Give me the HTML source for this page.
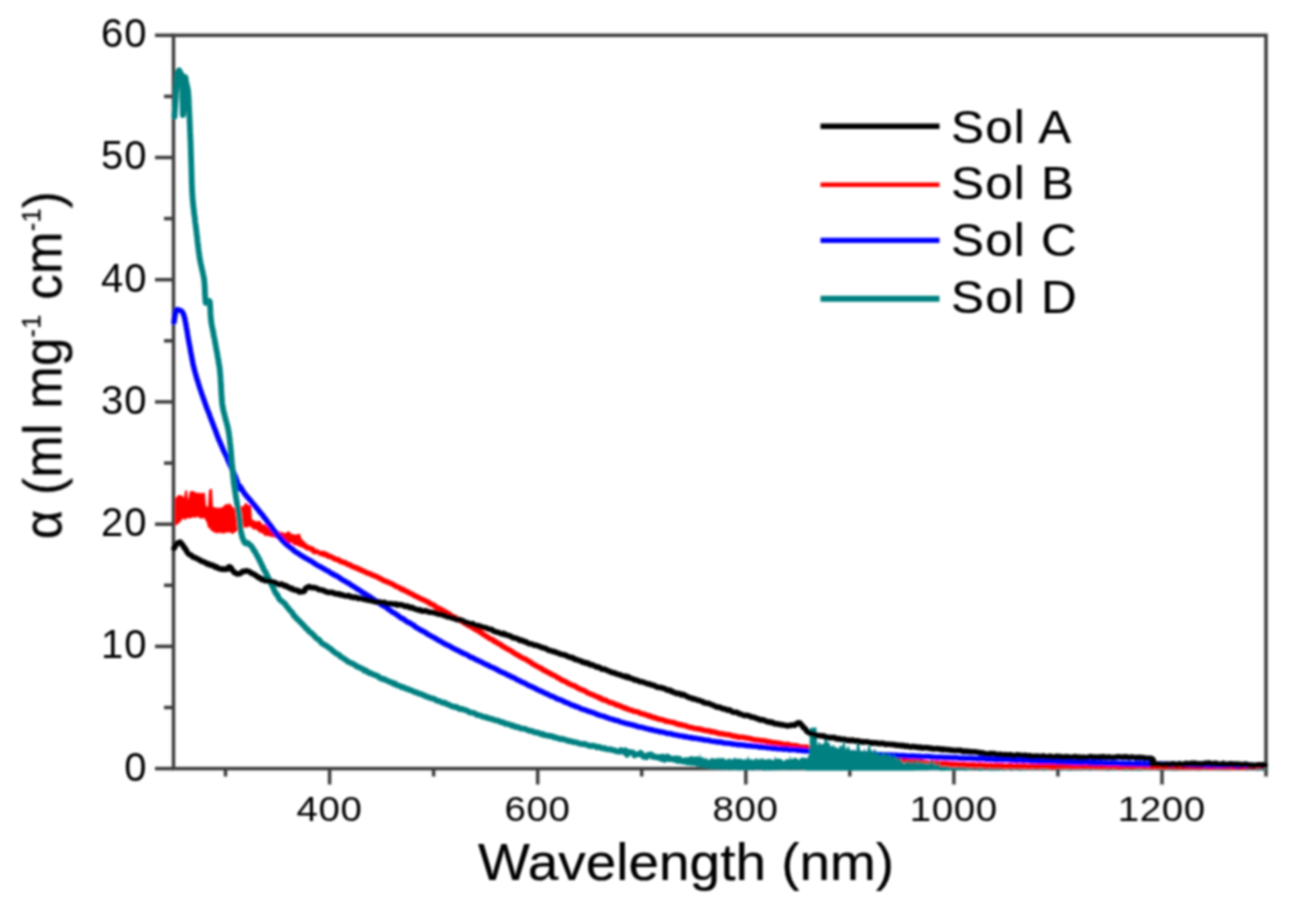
<!DOCTYPE html>
<html><head><meta charset="utf-8"><style>
html,body{margin:0;padding:0;background:#fff;}
svg{display:block;}
text{font-family:"Liberation Sans", sans-serif;}
</style></head><body>
<svg width="1292" height="916" viewBox="0 0 1292 916">
<defs><filter id="bl" x="-0.02" y="-0.02" width="1.04" height="1.04"><feGaussianBlur stdDeviation="0.85"/></filter></defs>
<rect width="1292" height="916" fill="#fff"/>
<g filter="url(#bl)">
<g stroke="#3d3d3d" stroke-width="3.5" fill="none" stroke-linecap="butt">
<rect x="173.5" y="35.3" width="1092.5" height="733.3"/>
<line x1="155" y1="768.6" x2="173.5" y2="768.6"/>
<line x1="155" y1="646.4" x2="173.5" y2="646.4"/>
<line x1="155" y1="524.2" x2="173.5" y2="524.2"/>
<line x1="155" y1="401.9" x2="173.5" y2="401.9"/>
<line x1="155" y1="279.7" x2="173.5" y2="279.7"/>
<line x1="155" y1="157.5" x2="173.5" y2="157.5"/>
<line x1="155" y1="35.3" x2="173.5" y2="35.3"/>
<line x1="164" y1="707.5" x2="173.5" y2="707.5"/>
<line x1="164" y1="585.3" x2="173.5" y2="585.3"/>
<line x1="164" y1="463.1" x2="173.5" y2="463.1"/>
<line x1="164" y1="340.8" x2="173.5" y2="340.8"/>
<line x1="164" y1="218.6" x2="173.5" y2="218.6"/>
<line x1="164" y1="96.4" x2="173.5" y2="96.4"/>
<line x1="329.6" y1="768.6" x2="329.6" y2="784.5"/>
<line x1="537.7" y1="768.6" x2="537.7" y2="784.5"/>
<line x1="745.8" y1="768.6" x2="745.8" y2="784.5"/>
<line x1="953.9" y1="768.6" x2="953.9" y2="784.5"/>
<line x1="1162.0" y1="768.6" x2="1162.0" y2="784.5"/>
<line x1="225.5" y1="768.6" x2="225.5" y2="776.5"/>
<line x1="433.6" y1="768.6" x2="433.6" y2="776.5"/>
<line x1="641.7" y1="768.6" x2="641.7" y2="776.5"/>
<line x1="849.8" y1="768.6" x2="849.8" y2="776.5"/>
<line x1="1057.9" y1="768.6" x2="1057.9" y2="776.5"/>
<line x1="1266.0" y1="768.6" x2="1266.0" y2="776.5"/>
</g>
<g fill="none" stroke-linejoin="round" stroke-linecap="round">
<path d="M940.0 767.6 L941.0 768.4 L942.0 767.3 L943.0 768.3 L944.0 767.9 L945.0 768.4 L946.0 766.7 L947.0 766.9 L948.0 767.1 L949.0 768.3 L950.0 766.5 L951.0 767.0 L952.0 767.9 L953.0 768.5 L954.0 766.9 L955.0 767.4 L956.0 767.9 L957.0 767.9 L958.0 768.0 L959.0 768.0 L960.0 767.0 L961.0 767.0 L962.0 766.6 L963.0 767.9 L964.0 766.9 L965.0 767.0 L966.0 768.4 L967.0 767.8 L968.0 767.7 L969.0 767.8 L970.0 767.7 L971.0 767.9 L972.0 767.1 L973.0 766.6 L974.0 766.6 L975.0 766.5 L976.0 767.2 L977.0 766.8 L978.0 766.7 L979.0 767.5 L980.0 768.4 L981.0 767.9 L982.0 767.0 L983.0 768.0 L984.0 766.9 L985.0 766.7 L986.0 767.1 L987.0 767.3 L988.0 767.9 L989.0 767.4 L990.0 768.0 L991.0 766.7 L992.0 768.4 L993.0 767.2 L994.0 768.2 L995.0 766.6 L996.0 768.2 L997.0 767.0 L998.0 768.2 L999.0 768.1 L1000.0 767.8 L1001.0 767.1 L1002.0 766.5 L1003.0 766.9 L1004.0 768.3 L1005.0 766.8 L1006.0 767.8 L1007.0 767.7 L1008.0 767.8 L1009.0 766.9 L1010.0 766.8 L1011.0 766.7 L1012.0 768.5 L1013.0 767.3 L1014.0 767.8 L1015.0 767.6 L1016.0 766.9 L1017.0 766.6 L1018.0 766.5 L1019.0 768.2 L1020.0 766.8 L1021.0 768.4 L1022.0 767.2 L1023.0 767.9 L1024.0 766.8 L1025.0 768.1 L1026.0 767.0 L1027.0 767.2 L1028.0 767.5 L1029.0 766.7 L1030.0 767.0 L1031.0 768.1 L1032.0 767.1 L1033.0 767.3 L1034.0 768.0 L1035.0 766.9 L1036.0 766.9 L1037.0 766.9 L1038.0 767.3 L1039.0 767.2 L1040.0 767.8 L1041.0 767.4 L1042.0 768.2 L1043.0 766.6 L1044.0 767.8 L1045.0 768.2 L1046.0 767.0 L1047.0 766.6 L1048.0 767.4 L1049.0 766.7 L1050.0 767.4 L1051.0 767.9 L1052.0 766.7 L1053.0 766.7 L1054.0 767.5 L1055.0 766.8 L1056.0 767.0 L1057.0 767.4 L1058.0 766.7 L1059.0 766.6 L1060.0 767.2 L1061.0 767.4 L1062.0 768.4 L1063.0 767.6 L1064.0 766.6 L1065.0 766.9 L1066.0 768.0 L1067.0 767.6 L1068.0 768.2 L1069.0 768.4 L1070.0 768.2 L1071.0 766.7 L1072.0 768.4 L1073.0 767.5 L1074.0 767.0 L1075.0 766.8 L1076.0 768.2 L1077.0 766.9 L1078.0 766.7 L1079.0 767.0 L1080.0 768.3 L1081.0 767.4 L1082.0 768.0 L1083.0 766.6 L1084.0 767.4 L1085.0 767.1 L1086.0 766.9 L1087.0 767.8 L1088.0 767.2 L1089.0 766.7 L1090.0 768.5 L1091.0 767.5 L1092.0 766.9 L1093.0 766.5 L1094.0 767.8 L1095.0 767.5 L1096.0 766.5 L1097.0 767.4 L1098.0 768.0 L1099.0 767.6 L1100.0 767.0 L1101.0 767.5 L1102.0 767.7 L1103.0 767.8 L1104.0 766.8 L1105.0 768.1 L1106.0 768.4 L1107.0 768.0 L1108.0 768.2 L1109.0 767.2 L1110.0 768.3 L1111.0 766.9 L1112.0 767.0 L1113.0 767.7 L1114.0 768.3 L1115.0 766.7 L1116.0 766.9 L1117.0 766.6 L1118.0 767.4 L1119.0 766.8 L1120.0 766.9 L1121.0 768.0 L1122.0 767.7 L1123.0 768.4 L1124.0 767.3 L1125.0 767.9 L1126.0 766.5 L1127.0 768.4 L1128.0 767.0 L1129.0 767.5 L1130.0 767.5 L1131.0 768.4 L1132.0 767.5 L1133.0 768.5 L1134.0 767.7 L1135.0 766.9 L1136.0 768.2 L1137.0 766.9 L1138.0 768.5 L1139.0 767.4 L1140.0 767.0 L1141.0 768.4 L1142.0 767.1 L1143.0 767.3 L1144.0 767.2 L1145.0 767.8 L1146.0 766.5 L1147.0 767.2 L1148.0 766.8 L1149.0 768.2 L1150.0 766.5 L1151.0 767.7 L1152.0 767.0 L1153.0 767.4 L1154.0 767.6 L1155.0 767.9 L1156.0 766.8 L1157.0 767.0 L1158.0 766.7 L1159.0 768.4 L1160.0 766.8 L1161.0 766.8 L1162.0 767.5 L1163.0 767.7 L1164.0 768.3 L1165.0 766.6 L1166.0 767.0 L1167.0 766.8 L1168.0 767.7 L1169.0 767.4 L1170.0 767.3 L1171.0 768.3 L1172.0 767.8 L1173.0 768.2 L1174.0 768.4 L1175.0 767.0 L1176.0 768.4 L1177.0 767.3 L1178.0 766.6 L1179.0 768.3 L1180.0 766.7 L1181.0 766.5 L1182.0 767.1 L1183.0 767.1 L1184.0 768.4 L1185.0 768.2 L1186.0 767.3 L1187.0 767.6 L1188.0 768.2 L1189.0 768.1 L1190.0 767.8 L1191.0 767.5 L1192.0 766.7 L1193.0 767.0 L1194.0 767.8 L1195.0 767.7 L1196.0 768.1 L1197.0 768.3 L1198.0 768.4 L1199.0 766.9 L1200.0 766.7 L1201.0 768.3 L1202.0 767.6 L1203.0 766.9 L1204.0 767.9 L1205.0 767.0 L1206.0 767.0 L1207.0 767.2 L1208.0 767.5 L1209.0 767.9 L1210.0 766.6 L1211.0 768.0 L1212.0 767.7 L1213.0 767.4 L1214.0 767.8 L1215.0 768.1 L1216.0 766.5 L1217.0 767.5 L1218.0 767.9 L1219.0 767.9 L1220.0 767.8 L1221.0 766.9 L1222.0 768.4 L1223.0 768.1 L1224.0 767.0 L1225.0 767.4 L1226.0 768.4 L1227.0 766.9 L1228.0 767.3 L1229.0 768.4 L1230.0 768.3 L1231.0 767.0 L1232.0 768.0 L1233.0 767.2 L1234.0 767.8 L1235.0 768.0 L1236.0 766.8 L1237.0 766.9 L1238.0 766.9 L1239.0 767.0 L1240.0 766.6 L1241.0 766.8 L1242.0 767.3 L1243.0 767.3 L1244.0 766.7 L1245.0 767.7 L1246.0 768.4 L1247.0 767.7 L1248.0 767.2 L1249.0 767.9 L1250.0 767.4 L1251.0 766.9 L1252.0 767.5 L1253.0 766.5 L1254.0 767.9 L1255.0 766.8 L1256.0 767.2 L1257.0 768.4 L1258.0 768.0 L1259.0 768.2 L1260.0 767.8 L1261.0 767.8 L1262.0 767.9 L1263.0 768.4 L1264.0 766.9 L1265.0 768.0" stroke="#008080" stroke-width="4.5"/>
<path d="M175.0 497.6 L176.0 497.6 L177.0 496.7 L178.0 495.1 L179.0 495.1 L180.0 495.1 L181.0 495.8 L182.0 495.2 L183.0 496.3 L184.0 498.2 L185.0 491.3 L186.0 490.2 L187.0 490.3 L188.0 500.2 L189.0 495.7 L190.0 491.1 L191.0 491.1 L192.0 491.2 L193.0 491.2 L194.0 491.0 L195.0 492.2 L196.0 492.3 L197.0 493.4 L198.0 492.6 L199.0 492.2 L200.0 493.5 L201.0 493.0 L202.0 493.3 L203.0 493.1 L204.0 492.6 L205.0 493.2 L206.0 505.4 L207.0 506.9 L208.0 506.3 L209.0 490.1 L210.0 489.2 L211.0 489.3 L212.0 488.7 L213.0 507.5 L214.0 506.5 L215.0 507.7 L216.0 506.9 L217.0 507.9 L218.0 508.1 L219.0 507.3 L220.0 508.4 L221.0 507.1 L222.0 507.5 L223.0 507.0 L224.0 505.5 L225.0 504.8 L226.0 504.1 L227.0 504.4 L228.0 504.2 L229.0 503.1 L230.0 504.6 L231.0 504.6 L232.0 505.8 L233.0 508.3 L234.0 507.1 L235.0 507.3 L236.0 507.1 L237.0 507.8 L238.0 508.7 L239.0 509.1 L240.0 507.0 L241.0 506.7 L242.0 505.6 L243.0 506.7 L244.0 505.0 L245.0 503.4 L246.0 503.0 L247.0 503.2 L248.0 505.1 L249.0 505.1 L250.0 505.7 L251.0 504.5 L252.0 519.3 L253.0 520.2 L254.0 520.0 L255.0 521.1 L256.0 521.4 L257.0 521.5 L258.0 520.5 L259.0 521.2 L260.0 521.1 L261.0 522.0 L262.0 523.9 L263.0 524.4 L264.0 524.9 L265.0 524.1 L266.0 524.7 L267.0 526.2 L268.0 527.3 L269.0 527.6 L270.0 527.2 L271.0 529.2 L272.0 529.2 L273.0 528.4 L274.0 529.1 L275.0 530.8 L276.0 530.0 L277.0 531.0 L278.0 530.2 L279.0 532.1 L280.0 530.9 L281.0 533.0 L282.0 531.9 L283.0 531.7 L284.0 533.5 L285.0 532.9 L286.0 532.9 L287.0 531.4 L288.0 531.9 L289.0 531.2 L290.0 531.7 L291.0 533.9 L292.0 533.7 L293.0 534.0 L294.0 534.5 L295.0 534.7 L296.0 534.3 L297.0 535.1 L298.0 533.5 L299.0 534.2 L300.0 533.4 L301.0 537.6 L302.0 539.0 L303.0 540.5 L304.0 540.9 L305.0 542.0 L306.0 543.4 L307.0 543.6 L308.0 545.0 L309.0 545.4 L310.0 544.7 L311.0 546.7 L312.0 545.6 L313.0 546.8 L314.0 546.9 L315.0 548.3 L316.0 549.2 L317.0 549.2 L318.0 548.5 L319.0 550.5 L320.0 550.9 L321.0 550.4 L322.0 551.5 L323.0 551.1 L324.0 551.3 L325.0 551.6 L326.0 551.4 L327.0 552.7 L328.0 552.9 L329.0 553.6 L330.0 555.0 L330.0 558.4 L329.0 559.5 L328.0 558.1 L327.0 559.0 L326.0 557.6 L325.0 556.9 L324.0 557.6 L323.0 556.6 L322.0 557.0 L321.0 555.0 L320.0 555.9 L319.0 555.9 L318.0 554.2 L317.0 554.3 L316.0 555.0 L315.0 553.4 L314.0 554.4 L313.0 554.0 L312.0 553.4 L311.0 551.5 L310.0 551.7 L309.0 550.4 L308.0 550.5 L307.0 550.5 L306.0 550.1 L305.0 549.5 L304.0 548.8 L303.0 547.7 L302.0 547.9 L301.0 547.0 L300.0 546.9 L299.0 546.5 L298.0 546.0 L297.0 545.8 L296.0 544.7 L295.0 545.5 L294.0 545.4 L293.0 543.9 L292.0 542.9 L291.0 542.6 L290.0 543.4 L289.0 543.0 L288.0 543.1 L287.0 542.9 L286.0 541.3 L285.0 540.5 L284.0 540.5 L283.0 541.2 L282.0 539.5 L281.0 538.7 L280.0 538.2 L279.0 538.0 L278.0 539.2 L277.0 538.9 L276.0 537.2 L275.0 538.1 L274.0 537.1 L273.0 537.0 L272.0 537.4 L271.0 536.6 L270.0 536.7 L269.0 536.1 L268.0 536.4 L267.0 535.2 L266.0 536.3 L265.0 535.9 L264.0 535.3 L263.0 533.4 L262.0 533.8 L261.0 532.6 L260.0 532.8 L259.0 532.6 L258.0 531.0 L257.0 530.2 L256.0 529.7 L255.0 529.0 L254.0 530.2 L253.0 528.8 L252.0 528.5 L251.0 527.3 L250.0 526.6 L249.0 526.0 L248.0 527.9 L247.0 526.9 L246.0 527.7 L245.0 527.3 L244.0 527.8 L243.0 527.4 L242.0 527.0 L241.0 528.3 L240.0 528.8 L239.0 528.4 L238.0 529.9 L237.0 530.8 L236.0 532.0 L235.0 532.0 L234.0 532.9 L233.0 533.9 L232.0 533.8 L231.0 533.2 L230.0 532.3 L229.0 532.2 L228.0 532.6 L227.0 533.0 L226.0 532.1 L225.0 533.3 L224.0 534.0 L223.0 532.8 L222.0 533.5 L221.0 533.6 L220.0 532.1 L219.0 533.3 L218.0 533.4 L217.0 532.4 L216.0 532.9 L215.0 533.2 L214.0 531.9 L213.0 531.7 L212.0 531.0 L211.0 530.4 L210.0 529.0 L209.0 527.5 L208.0 527.9 L207.0 523.1 L206.0 521.3 L205.0 518.8 L204.0 518.6 L203.0 518.0 L202.0 518.0 L201.0 519.2 L200.0 518.2 L199.0 517.7 L198.0 516.5 L197.0 517.0 L196.0 517.4 L195.0 518.0 L194.0 516.9 L193.0 517.6 L192.0 518.0 L191.0 517.5 L190.0 518.9 L189.0 518.2 L188.0 518.2 L187.0 518.0 L186.0 519.5 L185.0 519.9 L184.0 519.2 L183.0 518.1 L182.0 520.6 L181.0 520.3 L180.0 522.8 L179.0 523.1 L178.0 524.0 L177.0 524.6 L176.0 525.5 L175.0 525.7 Z" fill="#ff0000" stroke="none"/>
<path d="M322.0 553.5 L323.5 553.5 L325.0 554.3 L326.5 554.7 L328.0 555.9 L329.5 556.2 L331.0 556.7 L332.5 557.6 L334.0 558.6 L335.5 559.2 L337.0 559.4 L338.5 559.9 L340.0 561.2 L341.5 561.6 L343.0 562.3 L344.5 562.5 L346.0 563.1 L347.5 564.3 L349.0 564.7 L350.5 565.1 L352.0 566.4 L353.5 566.8 L355.0 567.6 L356.5 567.7 L358.0 569.0 L359.5 569.0 L361.0 570.3 L362.5 570.7 L364.0 571.3 L365.5 572.1 L367.0 573.1 L368.5 573.2 L370.0 573.8 L371.5 574.8 L373.0 575.2 L374.5 575.8 L376.0 576.5 L377.5 577.1 L379.0 578.0 L380.5 578.7 L382.0 579.4 L383.5 580.5 L385.0 580.8 L386.5 581.7 L388.0 582.1 L389.5 583.0 L391.0 583.4 L392.5 584.3 L394.0 584.9 L395.5 586.1 L397.0 586.7 L398.5 587.2 L400.0 588.1 L401.5 589.2 L403.0 589.3 L404.5 590.6 L406.0 591.0 L407.5 591.8 L409.0 592.9 L410.5 593.3 L412.0 594.1 L413.5 595.0 L415.0 596.0 L416.5 596.3 L418.0 597.4 L419.5 598.1 L421.0 598.8 L422.5 599.4 L424.0 600.2 L425.5 600.7 L427.0 601.6 L428.5 602.3 L430.0 603.7 L431.5 604.1 L433.0 604.8 L434.5 605.6 L436.0 607.0 L437.5 607.9 L439.0 608.5 L440.5 609.1 L442.0 609.9 L443.5 610.8 L445.0 611.7 L446.5 612.4 L448.0 613.4 L449.5 614.1 L451.0 615.6 L452.5 616.4 L454.0 617.0 L455.5 617.6 L457.0 619.1 L458.5 619.4 L460.0 620.3 L461.5 620.9 L463.0 622.1 L464.5 623.1 L466.0 624.0 L467.5 624.6 L469.0 625.8 L470.5 626.2 L472.0 627.4 L473.5 628.1 L475.0 629.3 L476.5 629.9 L478.0 630.8 L479.5 631.9 L481.0 632.7 L482.5 633.9 L484.0 634.8 L485.5 635.8 L487.0 636.7 L488.5 637.6 L490.0 638.7 L491.5 639.2 L493.0 640.0 L494.5 641.5 L496.0 641.7 L497.5 643.1 L499.0 643.9 L500.5 644.3 L502.0 645.9 L503.5 646.8 L505.0 647.5 L506.5 648.5 L508.0 649.4 L509.5 649.8 L511.0 651.0 L512.5 651.9 L514.0 653.0 L515.5 653.9 L517.0 654.8 L518.5 655.5 L520.0 656.6 L521.5 657.3 L523.0 658.2 L524.5 658.7 L526.0 659.5 L527.5 660.4 L529.0 661.5 L530.5 662.1 L532.0 663.6 L533.5 664.2 L535.0 665.1 L536.5 666.0 L538.0 666.9 L539.5 667.6 L541.0 668.1 L542.5 669.5 L544.0 670.3 L545.5 671.0 L547.0 671.8 L548.5 672.8 L550.0 673.1 L551.5 674.5 L553.0 674.9 L554.5 675.6 L556.0 676.5 L557.5 677.7 L559.0 678.1 L560.5 679.3 L562.0 680.3 L563.5 680.7 L565.0 681.4 L566.5 682.2 L568.0 683.2 L569.5 684.0 L571.0 684.6 L572.5 685.4 L574.0 685.7 L575.5 686.5 L577.0 687.3 L578.5 688.5 L580.0 688.8 L581.5 689.8 L583.0 690.1 L584.5 690.8 L586.0 691.7 L587.5 692.7 L589.0 693.4 L590.5 694.1 L592.0 694.4 L593.5 695.3 L595.0 695.9 L596.5 696.6 L598.0 696.9 L599.5 698.2 L601.0 698.3 L602.5 699.6 L604.0 700.1 L605.5 700.0 L607.0 701.0 L608.5 701.9 L610.0 702.6 L611.5 702.8 L613.0 703.2 L614.5 703.8 L616.0 705.0 L617.5 704.9 L619.0 705.8 L620.5 706.0 L622.0 706.9 L623.5 707.8 L625.0 707.7 L626.5 708.8 L628.0 709.0 L629.5 709.9 L631.0 710.2 L632.5 710.4 L634.0 711.4 L635.5 711.6 L637.0 711.7 L638.5 712.2 L640.0 713.1 L641.5 713.6 L643.0 713.9 L644.5 714.3 L646.0 714.9 L647.5 715.4 L649.0 716.2 L650.5 716.0 L652.0 717.1 L653.5 717.6 L655.0 717.5 L656.5 718.6 L658.0 718.8 L659.5 719.4 L661.0 719.4 L662.5 719.8 L664.0 720.3 L665.5 721.2 L667.0 721.3 L668.5 721.5 L670.0 721.9 L671.5 722.2 L673.0 722.4 L674.5 722.9 L676.0 723.8 L677.5 723.8 L679.0 724.7 L680.5 724.5 L682.0 724.9 L683.5 725.5 L685.0 725.6 L686.5 726.1 L688.0 726.9 L689.5 727.2 L691.0 727.5 L692.5 727.7 L694.0 728.3 L695.5 728.6 L697.0 728.6 L698.5 729.1 L700.0 728.9 L701.5 729.8 L703.0 729.9 L704.5 730.4 L706.0 730.7 L707.5 730.7 L709.0 730.8 L710.5 731.8 L712.0 731.5 L713.5 732.1 L715.0 732.3 L716.5 732.5 L718.0 733.2 L719.5 733.7 L721.0 733.4 L722.5 734.0 L724.0 734.0 L725.5 734.5 L727.0 734.6 L728.5 734.7 L730.0 735.0 L731.5 735.3 L733.0 736.2 L734.5 736.1 L736.0 736.2 L737.5 737.0 L739.0 737.3 L740.5 737.1 L742.0 737.1 L743.5 737.4 L745.0 737.6 L746.5 738.1 L748.0 738.1 L749.5 738.5 L751.0 738.8 L752.5 739.3 L754.0 739.8 L755.5 739.9 L757.0 739.9 L758.5 740.1 L760.0 740.5 L761.5 740.6 L763.0 740.8 L764.5 740.8 L766.0 741.2 L767.5 742.0 L769.0 741.6 L770.5 742.1 L772.0 742.4 L773.5 742.9 L775.0 742.6 L776.5 742.9 L778.0 743.1 L779.5 743.4 L781.0 743.7 L782.5 744.3 L784.0 744.5 L785.5 744.7 L787.0 744.3 L788.5 744.5 L790.0 745.3 L791.5 745.6 L793.0 745.5 L794.5 745.8 L796.0 745.6 L797.5 746.1 L799.0 746.8 L800.5 746.9 L802.0 747.2 L803.5 747.5 L805.0 747.2 L806.5 747.3 L808.0 747.5 L809.5 748.1 L811.0 748.4 L812.5 748.8 L814.0 748.9 L815.5 749.1 L817.0 749.4 L818.5 749.4 L820.0 749.7 L821.5 749.5 L823.0 750.3 L824.5 750.1 L826.0 750.8 L827.5 750.8 L829.0 750.8 L830.5 750.9 L832.0 751.2 L833.5 751.7 L835.0 752.0 L836.5 751.7 L838.0 751.9 L839.5 752.5 L841.0 752.8 L842.5 752.8 L844.0 752.9 L845.5 753.4 L847.0 753.2 L848.5 753.6 L850.0 753.9 L851.5 754.6 L853.0 754.5 L854.5 754.9 L856.0 754.8 L857.5 754.8 L859.0 755.0 L860.5 755.8 L862.0 755.8 L863.5 755.7 L865.0 755.6 L866.5 756.2 L868.0 756.6 L869.5 756.5 L871.0 756.6 L872.5 757.1 L874.0 757.5 L875.5 757.1 L877.0 757.2 L878.5 757.6 L880.0 757.9 L881.5 758.2 L883.0 758.0 L884.5 758.7 L886.0 758.8 L887.5 758.8 L889.0 758.7 L890.5 759.5 L892.0 759.2 L893.5 759.7 L895.0 759.4 L896.5 759.6 L898.0 760.2 L899.5 760.0 L901.0 760.7 L902.5 760.4 L904.0 760.3 L905.5 760.5 L907.0 760.8 L908.5 761.2 L910.0 761.5 L911.5 761.0 L913.0 761.4 L914.5 761.4 L916.0 762.1 L917.5 761.6 L919.0 761.6 L920.5 761.8 L922.0 762.1 L923.5 762.7 L925.0 762.8 L926.5 762.8 L928.0 763.1 L929.5 763.2 L931.0 762.8 L932.5 762.8 L934.0 763.5 L935.5 763.4 L937.0 763.0 L938.5 763.6 L940.0 763.4 L941.5 763.5 L943.0 763.6 L944.5 763.5 L946.0 763.5 L947.5 763.8 L949.0 763.9 L950.5 764.5 L952.0 763.9 L953.5 764.7 L955.0 764.1 L956.5 764.3 L958.0 764.8 L959.5 764.8 L961.0 764.6 L962.5 764.3 L964.0 764.8 L965.5 764.7 L967.0 765.2 L968.5 764.7 L970.0 764.9 L971.5 765.4 L973.0 764.7 L974.5 765.1 L976.0 765.5 L977.5 765.5 L979.0 765.0 L980.5 765.0 L982.0 765.1 L983.5 765.8 L985.0 765.3 L986.5 765.7 L988.0 765.9 L989.5 765.5 L991.0 765.5 L992.5 766.1 L994.0 765.8 L995.5 765.6 L997.0 766.0 L998.5 765.7 L1000.0 765.7 L1001.5 765.5 L1003.0 766.1 L1004.5 766.3 L1006.0 766.1 L1007.5 766.3 L1009.0 765.6 L1010.5 765.8 L1012.0 766.0 L1013.5 766.4 L1015.0 766.4 L1016.5 766.0 L1018.0 765.9 L1019.5 766.1 L1021.0 766.1 L1022.5 766.5 L1024.0 765.9 L1025.5 766.4 L1027.0 766.4 L1028.5 766.5 L1030.0 766.4 L1031.5 766.3 L1033.0 766.1 L1034.5 766.1 L1036.0 766.1 L1037.5 766.5 L1039.0 765.9 L1040.5 766.0 L1042.0 766.5 L1043.5 766.1 L1045.0 765.9 L1046.5 765.9 L1048.0 766.3 L1049.5 766.1 L1051.0 766.7 L1052.5 766.6 L1054.0 766.7 L1055.5 766.1 L1057.0 766.0 L1058.5 766.0 L1060.0 766.3 L1061.5 766.5 L1063.0 766.2 L1064.5 766.1 L1066.0 766.2 L1067.5 766.4 L1069.0 766.4 L1070.5 766.5 L1072.0 766.6 L1073.5 766.4 L1075.0 766.0 L1076.5 766.6 L1078.0 766.1 L1079.5 766.3 L1081.0 766.2 L1082.5 766.5 L1084.0 766.1 L1085.5 766.1 L1087.0 766.1 L1088.5 766.0 L1090.0 766.6 L1091.5 766.4 L1093.0 766.2 L1094.5 766.2 L1096.0 766.7 L1097.5 766.3 L1099.0 766.1 L1100.5 766.6 L1102.0 766.4 L1103.5 766.7 L1105.0 766.0 L1106.5 766.3 L1108.0 766.6 L1109.5 766.6 L1111.0 766.7 L1112.5 766.0 L1114.0 766.2 L1115.5 766.1 L1117.0 766.1 L1118.5 766.8 L1120.0 766.5 L1121.5 766.8 L1123.0 766.3 L1124.5 766.7 L1126.0 766.4 L1127.5 766.3 L1129.0 766.7 L1130.5 766.8 L1132.0 766.2 L1133.5 766.6 L1135.0 766.6 L1136.5 766.3 L1138.0 766.4 L1139.5 766.2 L1141.0 766.3 L1142.5 766.4 L1144.0 766.6 L1145.5 766.7 L1147.0 766.3 L1148.5 766.2 L1150.0 766.5 L1151.5 766.8 L1153.0 766.4 L1154.5 766.5 L1156.0 766.4 L1157.5 766.9 L1159.0 766.7 L1160.5 766.3 L1162.0 766.4 L1163.5 766.6 L1165.0 766.7 L1166.5 766.8 L1168.0 766.4 L1169.5 766.5 L1171.0 766.9 L1172.5 766.7 L1174.0 766.6 L1175.5 766.6 L1177.0 767.1 L1178.5 766.6 L1180.0 766.9 L1181.5 766.7 L1183.0 766.8 L1184.5 767.1 L1186.0 767.2 L1187.5 766.7 L1189.0 766.6 L1190.5 767.0 L1192.0 766.6 L1193.5 766.5 L1195.0 767.2 L1196.5 766.8 L1198.0 767.1 L1199.5 766.8 L1201.0 767.2 L1202.5 766.9 L1204.0 766.6 L1205.5 766.5 L1207.0 766.9 L1208.5 767.0 L1210.0 767.2 L1211.5 766.6 L1213.0 767.0 L1214.5 766.8 L1216.0 766.9 L1217.5 766.6 L1219.0 766.7 L1220.5 766.9 L1222.0 767.2 L1223.5 766.6 L1225.0 766.9 L1226.5 767.1 L1228.0 767.2 L1229.5 766.6 L1231.0 766.5 L1232.5 767.2 L1234.0 767.2 L1235.5 766.8 L1237.0 766.4 L1238.5 767.1 L1240.0 766.7 L1241.5 767.1 L1243.0 766.8 L1244.5 767.0 L1246.0 766.4 L1247.5 766.9 L1249.0 766.5 L1250.5 766.6 L1252.0 766.9 L1253.5 766.9 L1255.0 766.3 L1256.5 766.3 L1258.0 766.5 L1259.5 766.5 L1261.0 766.4 L1262.5 766.2 L1264.0 766.2" stroke="#ff0000" stroke-width="5.4"/>
<path d="M174.0 322.1 L174.2 321.2 L174.4 319.1 L174.7 317.6 L175.0 315.7 L175.3 313.5 L175.6 312.3 L176.0 310.8 L177.3 309.5 L179.0 310.0 L179.9 310.4 L180.8 310.6 L181.9 311.4 L183.0 313.1 L184.0 315.7 L184.3 316.8 L184.6 317.8 L184.9 319.1 L185.1 320.2 L185.4 322.0 L185.7 323.4 L186.0 324.9 L186.3 326.9 L186.6 328.6 L186.9 330.1 L187.2 331.7 L187.5 333.7 L187.7 335.2 L188.0 336.9 L188.3 338.8 L188.6 340.3 L188.9 342.1 L189.2 343.7 L189.5 345.0 L189.8 346.9 L190.1 348.2 L190.4 350.1 L190.6 351.7 L190.9 353.0 L191.2 354.3 L191.5 356.1 L191.8 357.5 L192.1 359.4 L192.4 360.4 L192.7 362.4 L193.0 364.0 L193.4 365.4 L193.7 367.0 L194.1 368.2 L194.5 370.3 L194.9 371.4 L195.3 373.1 L195.7 374.6 L196.1 375.6 L196.5 377.4 L196.9 379.0 L197.4 379.9 L197.8 381.6 L198.3 383.3 L198.8 384.4 L199.2 386.4 L199.7 387.5 L200.2 389.3 L200.7 390.4 L201.2 392.1 L201.7 393.8 L202.2 394.9 L202.7 396.4 L203.2 398.0 L203.7 399.4 L204.3 400.7 L204.8 402.4 L205.4 403.9 L206.0 406.0 L206.6 407.4 L207.2 409.2 L207.8 410.3 L208.4 412.3 L209.0 413.4 L209.6 415.2 L210.1 416.8 L210.7 418.1 L211.3 419.9 L211.8 421.1 L212.3 422.4 L212.8 423.9 L213.3 424.6 L213.7 426.3 L214.5 428.2 L215.2 429.9 L215.8 431.8 L216.3 432.8 L216.8 434.6 L217.2 435.6 L217.8 436.8 L218.3 438.5 L219.0 440.0 L219.6 441.1 L220.1 442.8 L220.8 443.8 L221.4 445.7 L222.0 446.8 L222.7 448.5 L223.4 450.2 L224.0 451.4 L224.7 453.0 L225.4 454.3 L226.1 455.7 L226.8 457.2 L227.4 458.6 L228.0 460.3 L228.7 461.7 L229.3 463.2 L230.0 464.9 L230.7 465.9 L231.4 467.5 L232.0 469.2 L232.7 470.3 L233.3 471.7 L233.9 473.3 L234.5 474.4 L235.0 475.8 L235.5 476.9 L236.2 479.1 L236.9 480.8 L237.4 482.2 L237.8 484.0 L238.3 485.3 L238.8 486.4 L239.3 488.2 L239.9 488.9 L240.0 486.2 L241.5 488.6 L243.0 491.2 L244.5 493.4 L246.0 495.4 L247.5 497.1 L249.0 498.8 L250.5 500.4 L252.0 502.5 L253.5 504.2 L255.0 505.8 L256.5 507.8 L258.0 509.5 L259.5 511.6 L261.0 513.3 L262.5 514.9 L264.0 517.3 L265.5 518.8 L267.0 521.1 L268.5 523.1 L270.0 525.0 L271.5 526.9 L273.0 529.3 L274.5 530.9 L276.0 533.1 L277.5 535.2 L279.0 536.5 L280.5 538.2 L282.0 540.1 L283.5 541.6 L285.0 543.1 L286.5 544.6 L288.0 545.6 L289.5 546.9 L291.0 548.1 L292.5 549.1 L294.0 550.8 L295.5 551.8 L297.0 552.8 L298.5 553.4 L300.0 554.8 L301.5 555.7 L303.0 556.5 L304.5 557.6 L306.0 558.3 L307.5 559.1 L309.0 559.9 L310.5 560.9 L312.0 561.7 L313.5 562.7 L315.0 563.8 L316.5 564.7 L318.0 565.6 L319.5 566.4 L321.0 567.0 L322.5 568.1 L324.0 568.8 L325.5 569.9 L327.0 570.6 L328.5 571.3 L330.0 572.4 L331.5 573.5 L333.0 573.9 L334.5 575.2 L336.0 575.5 L337.5 576.5 L339.0 577.4 L340.5 578.6 L342.0 579.6 L343.5 580.4 L345.0 581.0 L346.5 582.3 L348.0 582.9 L349.5 583.7 L351.0 585.1 L352.5 585.8 L354.0 586.8 L355.5 587.7 L357.0 588.9 L358.5 589.5 L360.0 590.7 L361.5 591.6 L363.0 592.7 L364.5 593.4 L366.0 594.5 L367.5 595.4 L369.0 596.2 L370.5 597.2 L372.0 598.4 L373.5 599.1 L375.0 600.6 L376.5 601.1 L378.0 602.0 L379.5 603.1 L381.0 604.5 L382.5 605.2 L384.0 606.1 L385.5 607.0 L387.0 608.0 L388.5 609.4 L390.0 610.3 L391.5 611.4 L393.0 612.4 L394.5 613.0 L396.0 614.3 L397.5 615.1 L399.0 616.4 L400.5 617.4 L402.0 618.4 L403.5 618.9 L405.0 620.3 L406.5 621.3 L408.0 622.3 L409.5 622.7 L411.0 623.8 L412.5 624.7 L414.0 625.5 L415.5 627.0 L417.0 627.9 L418.5 628.7 L420.0 629.7 L421.5 630.5 L423.0 631.2 L424.5 632.0 L426.0 632.9 L427.5 634.2 L429.0 634.7 L430.5 635.7 L432.0 636.6 L433.5 637.2 L435.0 638.2 L436.5 639.0 L438.0 640.1 L439.5 640.8 L441.0 641.5 L442.5 642.7 L444.0 643.3 L445.5 644.3 L447.0 645.0 L448.5 645.4 L450.0 646.4 L451.5 647.2 L453.0 648.2 L454.5 648.7 L456.0 649.7 L457.5 650.4 L459.0 650.9 L460.5 652.1 L462.0 652.4 L463.5 653.6 L465.0 653.9 L466.5 654.6 L468.0 655.4 L469.5 656.5 L471.0 657.4 L472.5 657.5 L474.0 658.6 L475.5 659.3 L477.0 660.2 L478.5 660.6 L480.0 661.5 L481.5 662.1 L483.0 663.1 L484.5 663.5 L486.0 664.7 L487.5 665.0 L489.0 665.7 L490.5 666.7 L492.0 667.3 L493.5 667.8 L495.0 668.8 L496.5 669.2 L498.0 670.4 L499.5 671.0 L501.0 671.8 L502.5 672.5 L504.0 673.0 L505.5 673.8 L507.0 674.5 L508.5 675.6 L510.0 675.8 L511.5 677.0 L513.0 677.2 L514.5 678.1 L516.0 678.9 L517.5 680.0 L519.0 680.5 L520.5 681.2 L522.0 682.2 L523.5 682.6 L525.0 683.4 L526.5 684.2 L528.0 685.1 L529.5 685.8 L531.0 686.5 L532.5 687.0 L534.0 687.8 L535.5 688.4 L537.0 689.5 L538.5 690.1 L540.0 690.9 L541.5 691.3 L543.0 692.1 L544.5 693.0 L546.0 693.6 L547.5 694.1 L549.0 695.0 L550.5 695.9 L552.0 696.2 L553.5 696.8 L555.0 697.6 L556.5 698.5 L558.0 699.2 L559.5 699.5 L561.0 700.1 L562.5 700.8 L564.0 701.5 L565.5 702.3 L567.0 702.7 L568.5 703.4 L570.0 704.0 L571.5 705.0 L573.0 705.5 L574.5 705.7 L576.0 706.8 L577.5 706.9 L579.0 707.6 L580.5 708.6 L582.0 709.0 L583.5 709.6 L585.0 709.9 L586.5 710.3 L588.0 711.2 L589.5 711.4 L591.0 712.0 L592.5 712.6 L594.0 712.9 L595.5 713.7 L597.0 714.4 L598.5 714.9 L600.0 715.3 L601.5 715.8 L603.0 716.2 L604.5 716.5 L606.0 717.3 L607.5 717.7 L609.0 718.3 L610.5 718.9 L612.0 719.1 L613.5 719.6 L615.0 720.2 L616.5 720.4 L618.0 720.8 L619.5 721.5 L621.0 722.0 L622.5 722.4 L624.0 722.8 L625.5 723.3 L627.0 723.6 L628.5 724.0 L630.0 724.3 L631.5 724.6 L633.0 725.2 L634.5 725.3 L636.0 725.9 L637.5 726.5 L639.0 726.8 L640.5 727.1 L642.0 727.3 L643.5 727.8 L645.0 728.2 L646.5 728.6 L648.0 728.9 L649.5 729.4 L651.0 729.9 L652.5 729.8 L654.0 730.4 L655.5 730.8 L657.0 730.9 L658.5 731.3 L660.0 731.9 L661.5 731.7 L663.0 732.3 L664.5 732.4 L666.0 733.1 L667.5 733.5 L669.0 733.5 L670.5 733.6 L672.0 734.2 L673.5 734.5 L675.0 734.9 L676.5 735.0 L678.0 735.4 L679.5 735.8 L681.0 735.9 L682.5 736.1 L684.0 736.7 L685.5 736.5 L687.0 737.1 L688.5 737.2 L690.0 737.7 L691.5 737.5 L693.0 738.3 L694.5 738.2 L696.0 738.3 L697.5 738.7 L699.0 739.0 L700.5 739.0 L702.0 739.5 L703.5 739.7 L705.0 740.1 L706.5 740.1 L708.0 740.3 L709.5 740.5 L711.0 741.0 L712.5 741.4 L714.0 741.4 L715.5 741.4 L717.0 742.0 L718.5 741.9 L720.0 742.0 L721.5 742.2 L723.0 742.8 L724.5 743.0 L726.0 743.1 L727.5 743.2 L729.0 743.4 L730.5 743.4 L732.0 744.1 L733.5 743.9 L735.0 744.2 L736.5 744.5 L738.0 744.7 L739.5 744.7 L741.0 744.8 L742.5 745.1 L744.0 745.0 L745.5 745.6 L747.0 745.5 L748.5 745.9 L750.0 745.7 L751.5 746.0 L753.0 746.1 L754.5 746.3 L756.0 746.3 L757.5 746.4 L759.0 747.0 L760.5 746.8 L762.0 747.0 L763.5 747.2 L765.0 747.4 L766.5 747.5 L768.0 747.8 L769.5 747.9 L771.0 747.9 L772.5 748.4 L774.0 748.5 L775.5 748.1 L777.0 748.7 L778.5 748.9 L780.0 748.9 L781.5 748.7 L783.0 749.2 L784.5 749.2 L786.0 749.0 L787.5 749.1 L789.0 749.8 L790.5 749.7 L792.0 749.6 L793.5 749.6 L795.0 749.7 L796.5 749.9 L798.0 750.3 L799.5 750.2 L801.0 750.2 L802.5 750.7 L804.0 750.8 L805.5 750.5 L807.0 751.0 L808.5 750.9 L810.0 751.1 L811.5 751.2 L813.0 751.4 L814.5 751.4 L816.0 751.6 L817.5 751.3 L819.0 751.7 L820.5 751.7 L822.0 751.9 L823.5 751.8 L825.0 752.1 L826.5 752.0 L828.0 751.9 L829.5 752.0 L831.0 752.0 L832.5 752.3 L834.0 752.1 L835.5 752.5 L837.0 752.4 L838.5 752.6 L840.0 752.7 L841.5 752.8 L843.0 753.1 L844.5 752.7 L846.0 753.2 L847.5 753.1 L849.0 753.2 L850.5 753.4 L852.0 753.5 L853.5 753.3 L855.0 753.4 L856.5 753.8 L858.0 753.4 L859.5 753.8 L861.0 753.9 L862.5 753.6 L864.0 754.0 L865.5 754.1 L867.0 754.3 L868.5 754.0 L870.0 754.5 L871.5 754.3 L873.0 754.3 L874.5 754.6 L876.0 754.2 L877.5 754.7 L879.0 754.7 L880.5 754.6 L882.0 755.0 L883.5 754.7 L885.0 754.9 L886.5 755.0 L888.0 755.2 L889.5 754.9 L891.0 755.1 L892.5 755.2 L894.0 755.3 L895.5 755.5 L897.0 755.3 L898.5 755.7 L900.0 755.5 L901.5 755.6 L903.0 755.5 L904.5 755.7 L906.0 756.1 L907.5 756.0 L909.0 756.1 L910.5 755.9 L912.0 756.0 L913.5 756.0 L915.0 756.2 L916.5 756.3 L918.0 756.5 L919.5 756.1 L921.0 756.6 L922.5 756.7 L924.0 756.6 L925.5 756.4 L927.0 756.6 L928.5 756.5 L930.0 756.6 L931.5 757.1 L933.0 757.0 L934.5 757.1 L936.0 757.3 L937.5 757.4 L939.0 757.3 L940.5 757.3 L942.0 757.4 L943.5 757.5 L945.0 757.5 L946.5 757.6 L948.0 757.4 L949.5 757.7 L951.0 757.7 L952.5 757.9 L954.0 757.6 L955.5 757.7 L957.0 757.7 L958.5 758.2 L960.0 758.3 L961.5 758.2 L963.0 758.1 L964.5 758.4 L966.0 758.5 L967.5 758.4 L969.0 758.3 L970.5 758.4 L972.0 758.5 L973.5 758.5 L975.0 758.6 L976.5 758.8 L978.0 759.0 L979.5 758.6 L981.0 758.9 L982.5 758.7 L984.0 758.8 L985.5 759.3 L987.0 759.2 L988.5 759.4 L990.0 759.2 L991.5 759.0 L993.0 759.3 L994.5 759.5 L996.0 759.7 L997.5 759.8 L999.0 759.6 L1000.5 759.6 L1002.0 759.4 L1003.5 759.8 L1005.0 759.6 L1006.5 759.6 L1008.0 759.6 L1009.5 759.7 L1011.0 760.1 L1012.5 759.8 L1014.0 760.4 L1015.5 759.9 L1017.0 760.5 L1018.5 760.1 L1020.0 760.0 L1021.5 760.5 L1023.0 760.3 L1024.5 760.6 L1026.0 760.4 L1027.5 760.3 L1029.0 760.8 L1030.5 760.8 L1032.0 761.0 L1033.5 760.9 L1035.0 760.6 L1036.5 761.0 L1038.0 761.1 L1039.5 761.0 L1041.0 761.3 L1042.5 761.0 L1044.0 761.4 L1045.5 761.3 L1047.0 761.0 L1048.5 761.0 L1050.0 761.4 L1051.5 761.6 L1053.0 761.2 L1054.5 761.4 L1056.0 761.7 L1057.5 761.4 L1059.0 761.9 L1060.5 761.7 L1062.0 761.5 L1063.5 761.7 L1065.0 761.9 L1066.5 761.8 L1068.0 762.0 L1069.5 761.8 L1071.0 762.2 L1072.5 762.0 L1074.0 762.2 L1075.5 762.2 L1077.0 762.1 L1078.5 762.2 L1080.0 762.5 L1081.5 762.6 L1083.0 762.5 L1084.5 762.4 L1086.0 762.3 L1087.5 762.2 L1089.0 762.8 L1090.5 762.7 L1092.0 762.8 L1093.5 762.6 L1095.0 762.8 L1096.5 763.0 L1098.0 763.0 L1099.5 762.9 L1101.0 762.8 L1102.5 762.9 L1104.0 763.2 L1105.5 762.9 L1107.0 763.1 L1108.5 763.1 L1110.0 763.3 L1111.5 763.3 L1113.0 763.1 L1114.5 762.9 L1116.0 763.1 L1117.5 763.3 L1119.0 763.4 L1120.5 763.6 L1122.0 763.6 L1123.5 763.2 L1125.0 763.7 L1126.5 763.7 L1128.0 763.8 L1129.5 763.6 L1131.0 763.5 L1132.5 763.9 L1134.0 763.9 L1135.5 763.8 L1137.0 764.0 L1138.5 763.7 L1140.0 763.6 L1141.5 763.9 L1143.0 764.1 L1144.5 763.7 L1146.0 764.1 L1147.5 764.2 L1149.0 763.9 L1150.5 764.1 L1152.0 764.2 L1153.5 764.1 L1155.0 764.0 L1156.5 764.0 L1158.0 764.4 L1159.5 764.4 L1161.0 764.2 L1162.5 764.0 L1164.0 764.5 L1165.5 764.5 L1167.0 764.2 L1168.5 764.5 L1170.0 764.7 L1171.5 764.7 L1173.0 764.5 L1174.5 764.5 L1176.0 764.6 L1177.5 764.4 L1179.0 764.4 L1180.5 764.4 L1182.0 764.8 L1183.5 764.6 L1185.0 764.7 L1186.5 764.7 L1188.0 764.7 L1189.5 764.6 L1191.0 764.5 L1192.5 765.1 L1194.0 764.8 L1195.5 764.6 L1197.0 765.0 L1198.5 765.1 L1200.0 764.7 L1201.5 765.0 L1203.0 764.9 L1204.5 765.0 L1206.0 764.7 L1207.5 764.7 L1209.0 765.3 L1210.5 765.3 L1212.0 765.1 L1213.5 765.1 L1215.0 765.0 L1216.5 765.3 L1218.0 765.1 L1219.5 765.4 L1221.0 765.3 L1222.5 765.4 L1224.0 765.5 L1225.5 765.1 L1227.0 765.0 L1228.5 765.1 L1230.0 765.1 L1231.5 765.0 L1233.0 765.0 L1234.5 765.3 L1236.0 765.5 L1237.5 765.3 L1239.0 765.6 L1240.5 765.6 L1242.0 765.1 L1243.5 765.4 L1245.0 765.3 L1246.5 765.2 L1248.0 765.7 L1249.5 765.3 L1251.0 765.5 L1252.5 765.5 L1254.0 765.7 L1255.5 765.6 L1257.0 765.4 L1258.5 765.4 L1260.0 765.3 L1261.5 765.8 L1263.0 765.8 L1264.5 765.3" stroke="#0000ff" stroke-width="5.4"/>
<path d="M174.5 116.6 L174.6 114.7 L174.6 113.6 L174.7 112.9 L174.8 111.4 L174.9 110.6 L174.9 108.3 L175.0 107.7 L175.1 106.0 L175.2 104.2 L175.4 102.0 L175.5 100.0 L175.6 98.5 L175.7 96.5 L175.8 94.4 L175.9 92.4 L176.1 90.6 L176.2 89.0 L176.3 87.4 L176.4 85.7 L176.6 83.0 L176.7 81.5 L176.8 80.1 L176.9 78.8 L177.0 77.1 L177.2 75.6 L177.3 74.4 L177.4 73.6 L177.5 73.0 L179.1 70.2 L180.5 73.0 L180.9 73.5 L181.2 74.2 L181.5 75.2 L181.8 76.8 L182.0 80.4 L182.1 80.5 L182.1 82.5 L182.2 83.9 L182.2 85.1 L182.2 87.2 L182.3 89.5 L182.3 90.9 L182.4 93.2 L182.4 94.8 L182.4 97.0 L182.5 99.7 L182.5 100.7 L182.6 102.9 L182.6 105.5 L182.6 107.0 L182.7 108.3 L182.7 110.5 L182.8 111.5 L182.8 112.9 L182.8 113.7 L182.9 114.5 L182.9 115.0 L183.0 114.9 L183.1 114.3 L183.1 113.9 L183.2 114.0 L183.2 112.5 L183.3 110.8 L183.3 110.2 L183.4 107.8 L183.4 105.8 L183.5 104.5 L183.5 102.1 L183.6 100.3 L183.7 98.3 L183.7 95.7 L183.8 94.0 L183.8 91.3 L183.9 89.7 L184.0 87.8 L184.0 85.3 L184.1 83.9 L184.2 81.9 L184.3 80.9 L184.3 80.2 L184.4 78.8 L184.5 78.3 L185.0 77.0 L185.5 77.4 L186.0 81.0 L186.5 83.8 L187.0 85.5 L187.3 87.5 L187.5 87.8 L187.7 88.3 L187.9 90.3 L188.1 91.4 L188.3 94.0 L188.5 96.6 L188.6 98.3 L188.6 98.6 L188.7 100.0 L188.8 101.5 L188.8 102.4 L188.9 104.5 L189.0 105.6 L189.0 107.2 L189.1 109.3 L189.2 110.7 L189.3 112.9 L189.4 114.3 L189.4 116.4 L189.5 117.8 L189.6 120.0 L189.7 121.7 L189.7 122.6 L189.8 125.1 L189.9 126.4 L190.0 128.6 L190.0 130.2 L190.1 132.0 L190.2 132.8 L190.2 134.7 L190.3 136.6 L190.3 138.3 L190.4 139.4 L190.5 139.9 L190.5 141.8 L190.6 143.4 L190.7 145.9 L190.7 148.0 L190.8 148.8 L190.8 151.2 L190.9 152.4 L190.9 153.2 L191.0 154.4 L191.0 156.0 L191.0 157.8 L191.1 158.8 L191.1 159.7 L191.2 161.0 L191.2 162.8 L191.3 165.4 L191.3 166.0 L191.4 167.8 L191.4 168.9 L191.5 170.8 L191.5 171.9 L191.5 173.1 L191.6 175.4 L191.6 176.6 L191.7 178.3 L191.7 180.0 L191.7 181.7 L191.8 182.2 L191.8 184.2 L191.9 185.5 L192.0 187.5 L192.0 189.6 L192.1 191.1 L192.2 191.7 L192.3 193.5 L192.4 195.8 L192.5 197.2 L192.6 198.4 L192.7 200.0 L192.9 201.1 L193.0 203.4 L193.2 204.4 L193.3 206.5 L193.5 207.7 L193.7 208.6 L193.8 210.5 L194.0 211.9 L194.2 214.2 L194.4 215.4 L194.6 216.3 L194.8 217.9 L195.0 219.7 L195.1 221.3 L195.3 222.9 L195.5 224.2 L195.7 225.6 L195.9 226.6 L196.0 228.7 L196.2 229.8 L196.4 231.1 L196.6 233.3 L196.8 235.6 L197.0 236.1 L197.2 237.9 L197.4 240.2 L197.5 241.3 L197.7 242.9 L197.9 244.8 L198.1 246.0 L198.3 247.9 L198.5 249.4 L198.7 251.4 L198.9 252.9 L199.1 253.2 L199.3 255.3 L199.5 257.0 L199.7 258.4 L200.0 260.0 L200.3 261.5 L200.6 263.1 L200.9 264.3 L201.3 265.6 L201.6 267.7 L202.0 269.2 L202.3 270.7 L202.6 271.8 L202.9 272.8 L203.2 274.7 L203.5 276.2 L203.8 277.4 L204.0 279.2 L204.2 280.3 L204.3 282.1 L204.5 283.6 L204.6 284.9 L204.7 287.0 L204.8 288.7 L204.9 291.3 L204.9 292.4 L205.0 294.0 L205.1 295.5 L205.2 297.0 L205.3 298.6 L205.4 299.6 L205.5 300.6 L205.6 302.7 L205.8 302.9 L207.7 302.2 L209.5 301.1 L209.7 301.6 L209.9 302.6 L210.0 303.8 L210.1 305.7 L210.2 307.4 L210.3 309.7 L210.4 311.4 L210.5 313.7 L210.6 314.8 L210.7 317.3 L210.8 318.6 L211.0 319.5 L211.2 321.2 L211.4 323.0 L211.6 324.7 L211.8 325.2 L212.1 326.8 L212.3 327.7 L212.6 329.6 L212.9 330.3 L213.3 332.7 L213.7 335.5 L213.9 335.9 L214.1 337.0 L214.4 338.0 L214.6 339.5 L214.9 341.0 L215.1 343.0 L215.4 343.8 L215.7 345.6 L216.0 346.9 L216.3 349.0 L216.6 350.9 L216.9 352.2 L217.2 353.4 L217.5 355.7 L217.8 357.6 L218.1 358.8 L218.4 359.9 L218.6 362.4 L218.9 364.1 L219.2 365.1 L219.4 366.5 L219.6 368.1 L219.8 370.0 L220.0 372.0 L220.1 373.2 L220.3 375.1 L220.4 375.9 L220.5 377.6 L220.6 379.7 L220.7 381.1 L220.8 382.4 L220.9 384.3 L221.0 385.5 L221.1 386.7 L221.1 388.7 L221.2 389.9 L221.3 392.1 L221.4 393.3 L221.5 395.0 L221.6 396.6 L221.7 397.7 L221.8 399.4 L221.9 400.3 L222.1 402.8 L222.2 403.7 L222.4 405.6 L222.7 406.2 L223.0 408.6 L223.3 410.4 L223.7 411.5 L224.0 412.8 L224.4 414.4 L224.8 415.9 L225.2 418.1 L225.6 418.7 L226.0 421.0 L226.4 422.0 L226.8 423.6 L227.2 425.1 L227.6 426.5 L227.9 428.1 L228.2 429.6 L228.5 430.8 L228.7 432.8 L229.0 433.7 L229.2 435.8 L229.4 437.3 L229.6 438.9 L229.8 439.9 L229.9 442.0 L230.1 443.8 L230.3 444.7 L230.4 446.0 L230.5 447.8 L230.7 449.9 L230.8 450.4 L231.0 451.7 L231.1 453.7 L231.2 455.4 L231.4 457.0 L231.5 457.8 L231.7 460.3 L231.8 461.1 L232.0 463.5 L232.1 464.3 L232.3 465.9 L232.4 467.7 L232.5 469.2 L232.7 471.3 L232.8 472.9 L232.9 473.9 L233.1 476.3 L233.2 477.1 L233.4 478.2 L233.5 479.6 L233.7 482.1 L233.9 484.0 L234.1 484.7 L234.3 486.1 L234.6 488.4 L234.8 489.3 L235.0 491.6 L235.3 492.6 L235.5 494.4 L235.8 495.8 L236.0 497.8 L236.3 498.9 L236.6 500.3 L236.8 502.7 L237.1 503.4 L237.4 505.8 L237.7 506.7 L238.0 509.0 L238.3 510.4 L238.5 512.5 L238.8 513.1 L239.0 515.1 L239.2 516.3 L239.4 518.7 L239.6 520.4 L239.7 521.6 L239.8 522.7 L239.9 524.1 L240.0 525.6 L240.2 527.1 L240.4 528.3 L240.6 529.6 L240.9 532.0 L241.3 533.5 L241.8 534.8 L242.2 537.3 L242.7 538.0 L243.2 539.8 L243.8 540.6 L244.3 542.4 L245.8 543.5 L247.4 542.8 L249.3 544.3 L250.1 545.3 L251.0 545.7 L251.9 547.0 L252.9 548.6 L253.8 550.5 L254.8 551.2 L255.8 553.4 L256.7 554.9 L257.4 556.0 L258.1 557.4 L258.8 559.1 L259.5 559.7 L260.2 562.0 L260.9 562.8 L261.6 564.7 L262.3 566.2 L262.9 566.8 L263.5 568.9 L264.1 570.2 L264.9 571.0 L265.6 572.1 L266.3 573.6 L266.9 575.9 L267.6 576.0 L268.2 578.5 L269.0 579.1 L269.6 581.1 L270.3 581.7 L271.0 583.1 L271.7 585.2 L272.4 585.9 L273.2 587.7 L273.9 589.8 L274.6 590.9 L275.3 592.4 L276.2 594.0 L277.0 594.4 L277.9 596.1 L278.8 598.2 L279.6 599.4 L285.0 603.8 L286.5 606.3 L288.0 607.8 L289.5 609.9 L291.0 611.3 L292.5 613.0 L294.0 615.9 L295.5 616.8 L297.0 619.2 L298.5 619.9 L300.0 622.0 L301.5 623.1 L303.0 625.1 L304.5 626.3 L306.0 628.4 L307.5 629.2 L309.0 631.4 L310.5 632.5 L312.0 633.5 L313.5 635.1 L315.0 636.7 L316.5 638.5 L318.0 639.1 L319.5 640.3 L321.0 642.4 L322.5 643.6 L324.0 644.6 L325.5 645.2 L327.0 646.3 L328.5 647.5 L330.0 648.4 L331.5 649.5 L333.0 651.2 L334.5 652.1 L336.0 653.4 L337.5 654.2 L339.0 654.7 L340.5 656.6 L342.0 657.5 L343.5 658.3 L345.0 659.3 L346.5 660.4 L348.0 661.7 L349.5 662.4 L351.0 663.1 L352.5 663.6 L354.0 664.4 L355.5 665.3 L357.0 666.8 L358.5 666.9 L360.0 667.7 L361.5 668.6 L363.0 669.0 L364.5 670.8 L366.0 670.4 L367.5 671.8 L369.0 673.0 L370.5 672.9 L372.0 674.0 L373.5 674.5 L375.0 675.0 L376.5 675.6 L378.0 676.2 L379.5 677.8 L381.0 678.3 L382.5 679.2 L384.0 678.8 L385.5 680.2 L387.0 680.4 L388.5 681.4 L390.0 681.9 L391.5 682.3 L393.0 683.7 L394.5 683.1 L396.0 684.6 L397.5 685.4 L399.0 685.6 L400.5 686.3 L402.0 687.4 L403.5 687.1 L405.0 688.1 L406.5 688.9 L408.0 689.0 L409.5 690.0 L411.0 690.2 L412.5 691.0 L414.0 691.7 L415.5 692.4 L417.0 692.5 L418.5 693.5 L420.0 693.9 L421.5 694.1 L423.0 695.2 L424.5 695.3 L426.0 696.7 L427.5 696.7 L429.0 697.6 L430.5 697.9 L432.0 698.4 L433.5 698.7 L435.0 699.2 L436.5 700.7 L438.0 700.8 L439.5 701.3 L441.0 701.9 L442.5 702.8 L444.0 702.6 L445.5 703.1 L447.0 704.4 L448.5 704.5 L450.0 705.3 L451.5 706.0 L453.0 706.6 L454.5 707.1 L456.0 706.7 L457.5 707.6 L459.0 708.7 L460.5 709.2 L462.0 708.9 L463.5 709.5 L465.0 710.1 L466.5 710.4 L468.0 711.2 L469.5 712.3 L471.0 712.5 L472.5 712.9 L474.0 713.0 L475.5 713.8 L477.0 715.1 L478.5 715.2 L480.0 715.4 L481.5 715.9 L483.0 716.8 L484.5 717.2 L486.0 717.0 L487.5 718.1 L489.0 718.2 L490.5 718.9 L492.0 719.0 L493.5 719.7 L495.0 720.1 L496.5 720.6 L498.0 720.7 L499.5 721.4 L501.0 722.3 L502.5 722.1 L504.0 722.7 L505.5 723.8 L507.0 723.8 L508.5 724.3 L510.0 724.6 L511.5 725.8 L513.0 725.3 L514.5 726.4 L516.0 727.2 L517.5 726.8 L519.0 727.5 L520.5 728.4 L522.0 728.6 L523.5 728.7 L525.0 728.8 L526.5 729.7 L528.0 730.0 L529.5 730.9 L531.0 730.8 L532.5 731.3 L534.0 732.0 L535.5 732.6 L537.0 732.5 L538.5 732.9 L540.0 733.6 L541.5 734.4 L543.0 733.9 L544.5 735.2 L546.0 735.3 L547.5 735.3 L549.0 736.1 L550.5 736.0 L552.0 736.1 L553.5 737.3 L555.0 737.2 L556.5 737.8 L558.0 738.1 L559.5 739.0 L561.0 739.2 L562.5 738.7 L564.0 739.7 L565.5 739.9 L567.0 740.3 L568.5 741.1 L570.0 741.0 L571.5 741.4 L573.0 742.2 L574.5 742.0 L576.0 742.4 L577.5 742.8 L579.0 743.5 L580.5 743.7 L582.0 744.1 L583.5 744.0 L585.0 743.9 L586.5 745.0 L588.0 745.2 L589.5 745.8 L591.0 746.1 L592.5 745.6 L594.0 746.1 L595.5 746.2 L597.0 747.4 L598.5 746.8 L600.0 747.1 L601.5 748.2 L603.0 748.3 L604.5 748.0 L606.0 749.0 L607.5 749.3 L609.0 749.4 L610.5 749.1 L612.0 750.2 L613.5 750.1 L615.0 750.6 L616.5 751.4 L618.0 751.4 L619.5 751.8 L621.0 750.0 L622.5 751.1 L624.0 752.2 L625.5 750.2 L627.0 754.8 L628.5 751.9 L630.0 752.1 L631.5 752.5 L633.0 752.5 L634.5 755.4 L636.0 754.3 L637.5 754.4 L639.0 754.2 L640.5 752.8 L642.0 754.2 L643.5 756.9 L645.0 756.8 L646.5 757.3 L648.0 754.8 L649.5 754.8 L651.0 754.4 L652.5 756.7 L654.0 756.2 L655.5 756.8 L657.0 757.1 L658.5 757.7 L660.0 756.9 L661.5 759.0 L663.0 756.6 L664.5 759.9 L666.0 758.5 L667.5 756.5 L669.0 757.8 L670.5 758.9 L672.0 758.6 L673.5 759.4 L675.0 758.5 L676.5 758.5 L678.0 760.9 L679.5 758.9 L681.0 760.9 L682.5 761.4 L684.0 760.6 L685.5 760.2 L687.0 762.4 L688.5 760.4 L690.0 762.5 L691.5 759.0 L693.0 760.8 L694.5 761.8 L696.0 759.3 L697.5 763.0 L699.0 759.7 L700.5 762.1 L702.0 760.4 L703.5 763.7 L705.0 762.3 L706.5 763.4 L708.0 762.2 L709.5 763.0 L711.0 763.1 L712.5 761.6 L714.0 761.3 L715.5 764.1 L717.0 761.2 L718.5 764.6 L720.0 761.6 L721.5 761.2 L723.0 761.2 L724.5 764.3 L726.0 765.1 L727.5 762.8 L729.0 764.0 L730.5 762.2 L732.0 765.2 L733.5 764.2 L735.0 761.9 L736.5 761.5 L738.0 764.4 L739.5 761.6 L741.0 765.1 L742.5 762.7 L744.0 762.5 L745.5 764.0 L747.0 762.9 L748.5 764.0 L750.0 762.2 L751.5 765.6 L753.0 763.0 L754.5 765.3 L756.0 762.2 L757.5 765.1 L759.0 765.9 L760.5 763.3 L762.0 761.7 L763.5 763.2 L765.0 764.3 L766.5 762.4 L768.0 763.8 L769.5 761.8 L771.0 763.4 L772.5 764.5 L774.0 763.2 L775.5 764.2 L777.0 761.7 L778.5 764.8 L780.0 761.7 L781.5 765.1 L783.0 765.4 L784.5 765.1 L786.0 763.2 L787.5 762.1 L789.0 762.3 L790.5 764.0 L792.0 762.8 L793.5 764.6 L795.0 760.8 L796.5 762.5 L798.0 764.0 L799.5 762.8 L801.0 762.4 L802.5 760.3 L804.0 760.5 L805.5 760.9 L807.0 763.5" stroke="#008080" stroke-width="5.8"/>
<path d="M806.0 762.1 L806.8 761.2 L807.6 757.9 L808.4 755.1 L809.2 755.7 L810.0 727.4 L810.8 728.2 L811.6 727.8 L812.4 728.2 L813.2 727.1 L814.0 728.0 L814.8 727.5 L815.6 727.2 L816.4 727.5 L817.2 746.1 L818.0 743.9 L818.8 741.7 L819.6 741.9 L820.4 744.4 L821.2 744.1 L822.0 744.5 L822.8 743.6 L823.6 743.9 L824.4 742.3 L825.2 736.3 L826.0 735.7 L826.8 736.0 L827.6 743.1 L828.4 742.7 L829.2 742.0 L830.0 745.0 L830.8 747.3 L831.6 745.4 L832.4 745.6 L833.2 746.5 L834.0 743.8 L834.8 748.4 L835.6 746.3 L836.4 747.6 L837.2 747.7 L838.0 748.5 L838.8 748.8 L839.6 745.7 L840.4 744.9 L841.2 747.6 L842.0 745.7 L842.8 745.0 L843.6 739.5 L844.4 738.7 L845.2 748.9 L846.0 748.8 L846.8 745.7 L847.6 749.7 L848.4 745.3 L849.2 747.0 L850.0 750.8 L850.8 749.6 L851.6 750.2 L852.4 750.7 L853.2 750.4 L854.0 749.0 L854.8 750.6 L855.6 750.9 L856.4 751.6 L857.2 740.5 L858.0 740.3 L858.8 739.7 L859.6 747.6 L860.4 751.7 L861.2 750.7 L862.0 751.2 L862.8 750.7 L863.6 751.7 L864.4 747.3 L865.2 751.9 L866.0 750.6 L866.8 751.9 L867.6 750.3 L868.4 745.6 L869.2 745.5 L870.0 746.3 L870.8 751.7 L871.6 748.7 L872.4 752.6 L873.2 752.5 L874.0 749.4 L874.8 749.1 L875.6 750.2 L876.4 755.0 L877.2 750.7 L878.0 753.2 L878.8 752.1 L879.6 755.6 L880.4 756.0 L881.2 755.3 L882.0 753.6 L882.8 751.7 L883.6 753.6 L884.4 752.5 L885.2 751.8 L886.0 756.6 L886.8 753.9 L887.6 757.2 L888.4 752.4 L889.2 754.8 L890.0 754.5 L890.8 756.3 L891.6 755.9 L892.4 758.4 L893.2 755.3 L894.0 753.6 L894.8 757.6 L895.6 756.4 L896.4 759.2 L897.2 758.6 L898.0 756.6 L898.8 760.9 L899.6 756.6 L900.4 759.7 L901.2 759.2 L902.0 761.2 L902.8 762.4 L903.6 761.3 L904.4 763.9 L905.2 762.9 L906.0 760.4 L906.8 762.5 L907.6 759.9 L908.4 761.7 L909.2 763.1 L910.0 759.2 L910.8 763.7 L911.6 762.9 L912.4 760.4 L913.2 760.3 L914.0 764.4 L914.8 759.8 L915.6 764.3 L916.4 760.6 L917.2 759.4 L918.0 761.2 L918.8 764.6 L919.6 760.1 L920.4 761.6 L921.2 762.8 L922.0 760.9 L922.8 763.6 L923.6 762.5 L924.4 763.7 L925.2 761.4 L926.0 762.4 L926.8 763.1 L927.6 764.0 L928.4 764.3 L929.2 761.5 L930.0 761.1 L930.8 759.9 L931.6 764.1 L932.4 762.1 L933.2 760.3 L934.0 763.5 L934.8 763.5 L935.6 764.4 L936.4 765.4 L937.2 761.9 L938.0 764.7 L938.8 761.0 L939.6 763.2 L939.6 770.0 L938.8 770.0 L938.0 770.0 L937.2 770.0 L936.4 770.0 L935.6 770.1 L934.8 770.1 L934.0 770.1 L933.2 770.1 L932.4 770.1 L931.6 770.1 L930.8 770.1 L930.0 770.1 L929.2 770.1 L928.4 770.2 L927.6 770.2 L926.8 770.2 L926.0 770.2 L925.2 770.2 L924.4 770.2 L923.6 770.2 L922.8 770.2 L922.0 770.2 L921.2 770.3 L920.4 770.3 L919.6 770.3 L918.8 770.3 L918.0 770.3 L917.2 770.3 L916.4 770.3 L915.6 770.3 L914.8 770.3 L914.0 770.4 L913.2 770.4 L912.4 770.4 L911.6 770.4 L910.8 770.4 L910.0 770.4 L909.2 770.4 L908.4 770.4 L907.6 770.4 L906.8 770.4 L906.0 770.5 L905.2 770.5 L904.4 770.5 L903.6 770.5 L902.8 770.5 L902.0 770.5 L901.2 770.5 L900.4 770.5 L899.6 770.5 L898.8 770.5 L898.0 770.5 L897.2 770.5 L896.4 770.5 L895.6 770.5 L894.8 770.5 L894.0 770.5 L893.2 770.5 L892.4 770.5 L891.6 770.5 L890.8 770.5 L890.0 770.5 L889.2 770.5 L888.4 770.5 L887.6 770.5 L886.8 770.5 L886.0 770.5 L885.2 770.5 L884.4 770.5 L883.6 770.5 L882.8 770.5 L882.0 770.5 L881.2 770.5 L880.4 770.5 L879.6 770.5 L878.8 770.5 L878.0 770.5 L877.2 770.5 L876.4 770.5 L875.6 770.5 L874.8 770.5 L874.0 770.5 L873.2 770.5 L872.4 770.5 L871.6 770.5 L870.8 770.5 L870.0 770.5 L869.2 770.5 L868.4 770.5 L867.6 770.5 L866.8 770.5 L866.0 770.5 L865.2 770.5 L864.4 770.5 L863.6 770.5 L862.8 770.5 L862.0 770.5 L861.2 770.5 L860.4 770.5 L859.6 770.5 L858.8 770.5 L858.0 770.5 L857.2 770.5 L856.4 770.5 L855.6 770.5 L854.8 770.5 L854.0 770.5 L853.2 770.5 L852.4 770.5 L851.6 770.5 L850.8 770.5 L850.0 770.5 L849.2 770.5 L848.4 770.5 L847.6 770.5 L846.8 770.5 L846.0 770.5 L845.2 770.5 L844.4 770.5 L843.6 770.5 L842.8 770.5 L842.0 770.5 L841.2 770.5 L840.4 770.5 L839.6 770.5 L838.8 770.5 L838.0 770.5 L837.2 770.5 L836.4 770.5 L835.6 770.5 L834.8 770.5 L834.0 770.5 L833.2 770.5 L832.4 770.5 L831.6 770.5 L830.8 770.5 L830.0 770.5 L829.2 770.5 L828.4 770.5 L827.6 770.5 L826.8 770.5 L826.0 770.5 L825.2 770.5 L824.4 770.5 L823.6 770.5 L822.8 770.5 L822.0 770.5 L821.2 770.5 L820.4 770.5 L819.6 770.5 L818.8 770.5 L818.0 770.5 L817.2 770.5 L816.4 770.5 L815.6 770.5 L814.8 770.5 L814.0 770.5 L813.2 770.5 L812.4 770.5 L811.6 770.5 L810.8 770.5 L810.0 770.5 L809.2 770.5 L808.4 770.5 L807.6 770.5 L806.8 770.5 L806.0 770.5 Z" fill="#008080" stroke="none"/>
<path d="M640.0 757.3 L641.0 755.5 L642.0 755.3 L643.0 756.8 L644.0 757.4 L645.0 756.5 L646.0 756.1 L647.0 757.9 L648.0 755.7 L649.0 757.9 L650.0 758.4 L651.0 757.9 L652.0 757.6 L653.0 755.8 L654.0 757.8 L655.0 756.3 L656.0 757.5 L657.0 756.4 L658.0 756.2 L659.0 757.8 L660.0 758.3 L661.0 758.0 L662.0 758.5 L663.0 755.6 L664.0 756.1 L665.0 755.8 L666.0 757.6 L667.0 755.8 L668.0 756.1 L669.0 757.9 L670.0 756.9 L671.0 756.5 L672.0 756.5 L673.0 758.7 L674.0 756.0 L675.0 756.0 L676.0 757.4 L677.0 758.1 L678.0 758.0 L679.0 757.8 L680.0 756.8 L681.0 759.5 L682.0 759.4 L683.0 759.6 L684.0 757.8 L685.0 757.8 L686.0 758.7 L687.0 757.4 L688.0 757.7 L689.0 757.0 L690.0 758.1 L691.0 757.1 L692.0 757.1 L693.0 758.4 L694.0 759.9 L695.0 759.8 L696.0 759.1 L697.0 756.8 L698.0 756.6 L699.0 759.2 L700.0 753.2 L701.0 758.9 L702.0 757.8 L703.0 757.4 L704.0 759.9 L705.0 758.4 L706.0 757.2 L707.0 759.6 L708.0 760.4 L709.0 759.7 L710.0 759.9 L711.0 757.4 L712.0 758.8 L713.0 758.0 L714.0 760.3 L715.0 760.4 L716.0 758.7 L717.0 758.5 L718.0 760.1 L719.0 757.3 L720.0 759.3 L721.0 757.3 L722.0 760.1 L723.0 757.5 L724.0 759.2 L725.0 758.5 L726.0 760.5 L727.0 759.7 L728.0 758.3 L729.0 758.8 L730.0 759.6 L731.0 758.2 L732.0 759.6 L733.0 760.0 L734.0 757.8 L735.0 757.8 L736.0 759.0 L737.0 760.1 L738.0 759.9 L739.0 759.3 L740.0 760.8 L741.0 757.9 L742.0 761.1 L743.0 759.0 L744.0 760.6 L745.0 760.3 L746.0 758.0 L747.0 760.5 L748.0 755.4 L749.0 758.5 L750.0 761.0 L751.0 761.0 L752.0 758.3 L753.0 760.5 L754.0 761.2 L755.0 758.5 L756.0 758.4 L757.0 758.2 L758.0 761.0 L759.0 757.9 L760.0 759.8 L761.0 759.7 L762.0 760.0 L763.0 758.2 L764.0 759.9 L765.0 759.3 L766.0 760.6 L767.0 760.9 L768.0 759.6 L769.0 760.3 L770.0 759.5 L771.0 761.5 L772.0 759.3 L773.0 760.6 L774.0 761.0 L775.0 756.1 L776.0 758.6 L777.0 761.5 L778.0 758.2 L779.0 758.5 L780.0 760.3 L781.0 759.8 L782.0 760.3 L783.0 761.4 L784.0 761.0 L785.0 761.2 L786.0 758.3 L787.0 761.2 L788.0 761.3 L789.0 761.6 L790.0 755.0 L791.0 759.5 L792.0 758.6 L793.0 761.8 L794.0 761.6 L795.0 761.3 L796.0 761.0 L797.0 759.3 L798.0 758.5 L799.0 761.5 L800.0 759.6 L801.0 761.1 L802.0 761.2 L803.0 758.8 L804.0 759.6 L805.0 759.8 L806.0 761.9 L807.0 760.4 L807.0 769.9 L806.0 770.3 L805.0 770.0 L804.0 769.9 L803.0 769.7 L802.0 770.0 L801.0 769.6 L800.0 769.7 L799.0 769.6 L798.0 770.3 L797.0 770.1 L796.0 770.2 L795.0 769.5 L794.0 769.7 L793.0 769.8 L792.0 770.1 L791.0 770.2 L790.0 770.2 L789.0 770.1 L788.0 770.3 L787.0 770.1 L786.0 769.8 L785.0 769.8 L784.0 769.6 L783.0 769.8 L782.0 769.9 L781.0 770.1 L780.0 770.0 L779.0 769.8 L778.0 770.4 L777.0 769.7 L776.0 769.9 L775.0 770.2 L774.0 770.4 L773.0 769.7 L772.0 770.4 L771.0 770.0 L770.0 770.4 L769.0 770.3 L768.0 770.4 L767.0 769.7 L766.0 770.5 L765.0 770.5 L764.0 770.2 L763.0 770.4 L762.0 769.7 L761.0 769.9 L760.0 769.7 L759.0 769.6 L758.0 769.6 L757.0 769.7 L756.0 770.0 L755.0 769.7 L754.0 769.8 L753.0 770.4 L752.0 770.5 L751.0 770.2 L750.0 769.9 L749.0 769.8 L748.0 770.3 L747.0 770.5 L746.0 769.5 L745.0 770.5 L744.0 769.9 L743.0 769.7 L742.0 770.3 L741.0 770.3 L740.0 769.9 L739.0 770.4 L738.0 769.8 L737.0 770.3 L736.0 769.8 L735.0 770.0 L734.0 769.8 L733.0 770.1 L732.0 769.9 L731.0 770.0 L730.0 770.4 L729.0 770.3 L728.0 769.5 L727.0 770.1 L726.0 769.8 L725.0 769.6 L724.0 770.1 L723.0 769.3 L722.0 769.6 L721.0 769.2 L720.0 769.6 L719.0 769.7 L718.0 769.8 L717.0 769.0 L716.0 769.1 L715.0 768.8 L714.0 769.0 L713.0 769.6 L712.0 769.4 L711.0 769.0 L710.0 769.4 L709.0 768.8 L708.0 768.2 L707.0 768.5 L706.0 768.6 L705.0 768.5 L704.0 767.6 L703.0 767.9 L702.0 768.0 L701.0 766.9 L700.0 767.3 L699.0 766.9 L698.0 766.4 L697.0 766.9 L696.0 766.2 L695.0 765.8 L694.0 765.8 L693.0 765.7 L692.0 765.9 L691.0 765.3 L690.0 765.4 L689.0 764.9 L688.0 765.2 L687.0 765.1 L686.0 764.6 L685.0 764.2 L684.0 764.6 L683.0 764.5 L682.0 764.0 L681.0 763.4 L680.0 763.1 L679.0 763.3 L678.0 763.3 L677.0 762.8 L676.0 763.3 L675.0 762.7 L674.0 762.3 L673.0 762.4 L672.0 762.0 L671.0 761.9 L670.0 761.9 L669.0 762.0 L668.0 762.0 L667.0 761.2 L666.0 761.1 L665.0 761.3 L664.0 761.3 L663.0 760.8 L662.0 761.0 L661.0 761.1 L660.0 760.6 L659.0 759.9 L658.0 760.6 L657.0 760.3 L656.0 759.6 L655.0 760.2 L654.0 759.5 L653.0 759.2 L652.0 758.9 L651.0 758.8 L650.0 758.6 L649.0 758.8 L648.0 758.5 L647.0 758.2 L646.0 758.1 L645.0 758.2 L644.0 758.0 L643.0 757.6 L642.0 757.9 L641.0 757.8 L640.0 757.1 Z" fill="#008080" stroke="none"/>
<path d="M174.0 548.4 L174.6 547.4 L175.5 545.5 L176.5 544.2 L177.5 543.0 L178.8 542.5 L180.3 542.1 L182.0 544.3 L182.8 545.2 L183.6 546.4 L184.4 548.2 L185.3 548.6 L186.2 550.3 L187.3 552.5 L188.6 554.0 L189.7 554.6 L191.0 555.1 L192.3 556.4 L193.7 557.4 L195.2 557.5 L196.7 558.5 L198.1 559.2 L199.6 559.8 L201.0 561.0 L202.5 561.4 L204.1 562.1 L205.6 562.7 L207.2 564.0 L208.7 563.8 L210.2 565.2 L211.8 565.1 L213.3 565.4 L214.9 567.1 L216.6 566.8 L218.3 568.3 L220.0 568.7 L221.7 569.3 L223.2 568.8 L224.6 569.4 L225.7 569.1 L227.4 569.2 L228.2 567.4 L229.4 566.7 L230.3 567.1 L231.2 568.1 L232.2 570.1 L233.3 571.1 L234.5 572.7 L235.7 573.2 L236.9 574.0 L238.3 573.7 L239.8 573.8 L241.3 572.7 L243.0 571.2 L244.8 571.4 L246.8 570.7 L247.9 571.2 L249.1 571.4 L250.3 572.1 L251.6 573.5 L252.9 573.7 L254.3 574.3 L255.7 575.6 L257.1 576.3 L258.6 577.8 L260.0 577.7 L261.5 579.5 L262.9 579.0 L264.4 580.5 L265.8 580.7 L267.3 580.6 L268.9 581.3 L270.4 581.4 L272.0 581.8 L273.5 582.1 L275.1 582.6 L276.7 583.7 L278.3 584.2 L279.9 584.5 L281.5 584.0 L282.9 584.7 L284.4 586.0 L285.9 585.6 L287.4 587.1 L289.0 587.3 L290.6 588.8 L292.1 588.3 L293.6 589.9 L295.1 590.0 L296.5 590.3 L297.9 590.6 L299.1 592.0 L300.3 591.9 L301.3 591.6 L303.4 591.6 L304.6 590.9 L305.5 588.6 L306.7 587.7 L308.7 586.6 L309.8 586.7 L311.1 587.6 L312.4 587.8 L313.8 587.5 L315.3 587.8 L316.9 588.3 L318.5 589.4 L320.2 589.8 L321.9 590.1 L323.6 590.5 L325.4 591.5 L327.2 592.0 L328.6 592.5 L330.0 592.5 L331.4 592.4 L332.9 592.5 L334.5 593.6 L336.0 593.6 L337.6 594.2 L339.2 593.8 L340.8 595.0 L342.4 594.7 L344.0 595.6 L345.6 596.0 L347.2 595.9 L348.8 595.6 L350.3 597.0 L351.9 596.8 L353.4 597.6 L355.0 597.1 L356.5 597.4 L358.1 598.5 L359.6 598.2 L361.2 598.3 L362.7 598.9 L364.3 599.4 L365.8 599.1 L367.4 600.0 L368.9 600.2 L370.5 600.6 L372.0 600.4 L373.6 601.4 L375.1 601.8 L376.7 602.1 L378.3 601.7 L379.8 602.5 L381.4 602.3 L383.0 603.0 L384.7 602.4 L386.3 603.6 L387.9 603.9 L389.5 603.6 L391.1 603.8 L392.7 604.0 L394.2 604.2 L395.7 603.9 L397.2 605.2 L398.7 604.6 L400.1 604.8 L401.5 604.9 L403.3 605.5 L404.9 606.5 L406.6 606.0 L408.1 606.5 L409.6 607.6 L411.1 607.4 L412.6 607.6 L414.1 608.8 L415.5 609.1 L417.0 609.5 L418.5 610.1 L420.0 609.7 L421.6 611.0 L423.2 611.1 L424.8 610.7 L426.5 611.1 L428.1 611.8 L429.7 612.2 L431.4 612.2 L432.9 612.3 L434.5 612.9 L435.9 612.9 L437.3 613.7 L438.6 614.3 L440.5 613.9 L442.2 614.8 L443.6 615.4 L444.9 615.1 L446.4 616.3 L448.0 616.9 L450.0 616.9 L451.2 617.3 L452.4 618.1 L453.6 618.1 L454.8 618.3 L456.1 619.4 L457.4 619.6 L458.8 619.5 L460.3 619.9 L461.8 620.5 L463.5 621.1 L465.3 622.3 L467.2 622.7 L469.2 623.5 L470.3 623.7 L471.5 624.2 L472.8 623.6 L474.1 624.6 L475.5 625.5 L476.9 625.9 L478.3 625.6 L479.8 626.2 L481.3 627.0 L482.8 627.1 L484.4 627.8 L485.9 627.7 L487.5 628.7 L489.1 629.2 L490.6 629.2 L492.2 629.8 L493.7 631.3 L495.3 631.5 L496.8 632.2 L498.2 632.3 L499.7 633.0 L501.1 633.6 L502.4 634.0 L503.7 633.4 L505.0 634.6 L506.8 634.7 L508.4 635.8 L510.0 635.9 L511.6 636.8 L513.1 637.8 L514.5 638.0 L515.9 638.0 L517.3 638.9 L518.7 639.3 L520.1 640.5 L521.5 640.2 L522.9 640.7 L524.3 641.7 L525.7 641.6 L527.2 642.7 L528.7 643.7 L530.3 643.7 L531.7 643.9 L533.0 644.6 L534.4 645.2 L535.8 645.2 L537.2 645.6 L538.6 646.1 L540.0 646.7 L541.4 647.3 L542.8 647.7 L544.2 648.1 L545.7 648.4 L547.2 649.4 L548.7 650.3 L550.2 650.5 L551.7 651.0 L553.3 651.6 L554.9 651.6 L556.6 652.8 L558.3 653.1 L560.0 653.8 L561.3 654.3 L562.5 654.6 L563.8 654.8 L565.2 655.2 L566.5 655.7 L567.9 656.5 L569.3 656.9 L570.7 657.6 L572.1 657.4 L573.5 658.4 L575.0 659.5 L576.4 659.3 L577.9 660.2 L579.4 660.6 L580.8 660.9 L582.3 662.3 L583.8 662.0 L585.3 663.1 L586.8 662.9 L588.3 663.3 L589.8 664.8 L591.2 664.9 L592.7 664.9 L594.2 665.8 L595.7 666.4 L597.1 667.3 L598.6 667.0 L600.0 667.7 L601.4 669.0 L602.9 669.3 L604.3 669.0 L605.7 669.8 L607.1 670.3 L608.6 671.1 L610.0 671.5 L611.4 672.3 L612.9 672.7 L614.3 672.8 L615.7 673.6 L617.1 674.0 L618.6 674.5 L620.0 674.7 L621.4 675.5 L622.9 675.9 L624.3 676.6 L625.7 676.1 L627.1 677.5 L628.6 676.9 L630.0 678.3 L631.4 678.5 L632.9 678.9 L634.3 679.9 L635.7 679.9 L637.1 680.2 L638.6 681.1 L640.0 681.6 L641.5 681.8 L643.0 682.0 L644.4 682.6 L645.9 683.1 L647.4 683.9 L648.9 683.8 L650.4 684.4 L651.9 685.1 L653.3 685.3 L654.8 685.7 L656.3 686.8 L657.8 687.3 L659.3 687.3 L660.7 687.7 L662.2 687.9 L663.7 688.5 L665.2 688.8 L666.7 689.8 L668.1 690.3 L669.6 690.1 L671.1 691.6 L672.6 691.4 L674.1 692.5 L675.6 693.0 L677.0 693.6 L678.5 693.2 L680.0 693.9 L681.4 695.0 L682.9 694.4 L684.3 694.9 L685.7 696.0 L687.1 696.4 L688.6 697.4 L690.0 697.7 L691.4 697.9 L692.8 698.9 L694.2 698.8 L695.7 699.3 L697.1 700.0 L698.5 700.2 L699.9 700.6 L701.4 701.4 L702.8 701.6 L704.2 702.8 L705.6 703.0 L707.1 703.3 L708.5 703.2 L709.9 704.0 L711.4 704.6 L712.8 705.2 L714.2 705.7 L715.7 706.6 L717.1 707.1 L718.6 707.0 L720.0 707.4 L721.5 708.1 L722.9 709.0 L724.5 708.7 L726.0 709.4 L727.5 710.2 L729.1 709.9 L730.7 710.6 L732.3 711.9 L733.9 712.2 L735.5 712.3 L737.1 712.3 L738.7 713.7 L740.2 713.9 L741.8 714.5 L743.4 715.2 L744.9 715.5 L746.4 715.4 L747.9 715.5 L749.4 716.1 L750.9 716.8 L752.3 717.2 L753.7 717.2 L755.0 717.6 L756.3 718.5 L757.5 718.8 L758.7 718.9 L759.9 720.0 L761.0 719.9 L763.2 719.8 L765.2 720.8 L767.0 721.7 L768.7 721.6 L770.2 722.5 L771.6 722.0 L772.9 722.7 L774.1 723.7 L775.3 723.6 L776.5 724.0 L777.6 723.7 L778.8 724.3 L780.0 724.6 L782.0 724.5 L783.8 725.3 L785.6 725.3 L787.2 726.0 L788.8 725.6 L790.3 725.4 L791.7 725.1 L793.0 725.1 L795.1 725.2 L796.7 723.5 L798.2 722.8 L800.0 723.1 L800.9 724.1 L801.8 725.4 L802.7 726.2 L803.6 727.7 L804.6 728.1 L805.7 729.3 L807.0 731.5 L808.4 732.1 L810.0 733.5 L811.1 733.5 L812.3 733.7 L813.5 734.2 L814.8 734.3 L816.2 735.6 L817.5 735.5 L819.0 735.5 L820.5 735.9 L822.1 736.0 L823.7 735.9 L825.4 737.1 L827.2 737.0 L829.1 737.8 L831.0 737.4 L832.3 737.8 L833.6 737.6 L835.0 737.6 L836.4 738.8 L837.9 739.0 L839.4 738.5 L840.9 739.4 L842.4 739.5 L844.0 739.1 L845.6 739.7 L847.2 740.4 L848.9 740.0 L850.5 740.8 L852.1 740.1 L853.8 740.5 L855.4 741.1 L857.1 740.7 L858.7 741.0 L860.3 741.9 L862.0 741.6 L863.5 742.2 L865.1 741.7 L866.7 741.8 L868.2 742.2 L869.8 742.2 L871.3 743.3 L872.9 742.6 L874.4 743.1 L876.0 742.7 L877.5 743.4 L879.1 743.4 L880.6 743.6 L882.2 743.3 L883.7 743.5 L885.3 744.5 L886.8 744.1 L888.4 744.2 L889.9 744.2 L891.5 744.5 L893.0 744.6 L894.6 744.5 L896.1 745.4 L897.7 745.2 L899.2 745.1 L900.7 745.9 L902.3 745.3 L903.8 745.7 L905.4 746.5 L906.9 745.8 L908.5 746.3 L910.0 746.9 L911.6 747.0 L913.1 746.4 L914.7 746.7 L916.2 747.3 L917.7 747.0 L919.3 747.8 L920.8 747.1 L922.4 748.1 L923.9 747.7 L925.5 747.5 L927.0 747.9 L928.6 747.7 L930.1 748.5 L931.7 748.1 L933.2 749.0 L934.7 748.7 L936.3 748.6 L937.9 748.6 L939.4 749.2 L941.0 748.8 L942.5 749.8 L944.1 749.0 L945.7 749.6 L947.2 749.8 L948.8 749.6 L950.3 750.3 L951.9 750.0 L953.4 750.5 L955.0 750.5 L956.6 750.3 L958.1 750.5 L959.6 750.3 L961.2 750.6 L962.7 751.5 L964.3 751.0 L965.8 751.6 L967.3 751.0 L968.9 751.7 L970.4 751.6 L971.8 751.9 L973.3 751.8 L974.7 751.7 L976.1 752.2 L977.5 752.2 L978.9 752.2 L980.2 753.1 L981.6 752.7 L983.1 753.0 L984.5 753.8 L986.0 753.7 L987.5 754.0 L989.1 754.1 L990.7 753.4 L992.4 753.7 L994.2 753.5 L996.0 754.5 L998.0 754.6 L1000.0 754.3 L1001.2 754.5 L1002.5 754.8 L1003.7 755.0 L1004.9 754.5 L1006.2 755.3 L1007.5 754.8 L1008.7 755.2 L1010.0 754.7 L1011.3 754.7 L1012.7 755.7 L1014.0 755.6 L1015.3 755.6 L1016.7 754.9 L1018.1 754.9 L1019.5 755.2 L1020.9 755.3 L1022.4 755.5 L1023.9 755.6 L1025.3 755.3 L1026.9 755.7 L1028.4 756.1 L1030.0 755.6 L1031.6 756.5 L1033.2 756.2 L1034.8 756.5 L1036.5 756.0 L1038.2 756.2 L1039.9 756.6 L1041.7 756.3 L1043.5 755.9 L1045.3 756.9 L1047.2 756.9 L1049.1 756.4 L1051.0 756.2 L1053.0 757.2 L1055.0 756.9 L1056.2 756.3 L1057.5 756.5 L1058.8 756.4 L1060.2 757.3 L1061.6 756.6 L1063.0 757.4 L1064.5 757.3 L1066.0 756.5 L1067.5 757.2 L1069.0 756.9 L1070.6 757.3 L1072.2 757.4 L1073.8 756.8 L1075.5 756.6 L1077.1 757.6 L1078.8 757.0 L1080.5 757.6 L1082.2 757.3 L1084.0 757.4 L1085.7 757.5 L1087.5 757.3 L1089.2 757.0 L1091.0 756.6 L1092.8 757.4 L1094.5 757.0 L1096.3 757.1 L1098.1 757.6 L1099.9 756.7 L1101.6 757.5 L1103.4 756.6 L1105.2 757.4 L1106.9 757.5 L1108.6 756.9 L1110.4 757.2 L1112.1 757.8 L1113.8 757.4 L1115.5 757.3 L1117.2 756.9 L1118.8 756.7 L1120.4 757.1 L1122.0 757.2 L1123.6 756.9 L1125.2 757.1 L1126.7 756.9 L1128.2 757.6 L1129.7 757.6 L1131.1 757.1 L1132.5 757.1 L1133.9 757.5 L1135.2 757.5 L1136.5 758.1 L1137.7 757.4 L1138.9 757.4 L1140.1 758.1 L1141.2 757.3 L1142.2 757.9 L1143.3 757.6 L1144.2 758.3 L1145.1 758.0 L1146.0 758.3 L1151.2 758.3 L1153.2 759.8 L1153.2 760.8 L1152.3 761.8 L1151.5 763.2 L1151.9 764.1 L1154.7 763.8 L1155.6 764.1 L1156.6 764.3 L1157.7 764.1 L1158.8 764.0 L1160.0 764.3 L1161.2 764.2 L1162.5 764.8 L1163.8 764.5 L1165.2 764.1 L1166.6 764.3 L1168.1 764.4 L1169.6 764.3 L1171.1 764.0 L1172.7 763.8 L1174.3 763.7 L1175.9 764.8 L1177.6 764.5 L1179.3 763.6 L1181.0 764.3 L1182.7 764.6 L1184.4 764.0 L1186.1 763.4 L1187.9 763.8 L1189.6 763.7 L1191.4 763.3 L1193.1 763.7 L1194.9 763.0 L1196.6 764.1 L1198.3 763.7 L1200.0 763.7 L1201.7 764.0 L1203.4 763.7 L1205.1 763.2 L1206.7 763.2 L1208.2 763.1 L1209.7 763.0 L1211.3 763.9 L1212.9 764.0 L1214.5 763.4 L1216.2 763.3 L1217.9 763.9 L1219.6 764.2 L1221.3 764.3 L1223.1 763.4 L1224.9 764.2 L1226.6 764.3 L1228.4 764.3 L1230.2 763.8 L1232.0 763.7 L1233.8 764.6 L1235.6 764.0 L1237.3 764.1 L1239.1 764.4 L1240.8 764.3 L1242.6 764.9 L1244.2 764.2 L1245.9 764.0 L1247.5 764.7 L1249.1 764.9 L1250.7 765.2 L1252.2 765.1 L1253.7 765.4 L1255.1 765.5 L1256.4 765.0 L1257.7 765.0 L1259.0 764.7 L1260.2 764.9 L1261.3 765.3 L1262.3 764.7 L1263.3 765.5 L1264.2 764.9 L1265.0 765.2" stroke="#000" stroke-width="5.6"/>
</g>
<g font-family="Liberation Sans, sans-serif" fill="#000" stroke="#000" stroke-width="0.25">
<g font-size="40" stroke-width="0">
<text x="0" y="0" text-anchor="end" letter-spacing="1.2" transform="translate(147.8,780.5) scale(1.0,1)">0</text>
<text x="0" y="0" text-anchor="end" letter-spacing="1.2" transform="translate(147.8,658.3) scale(1.0,1)">10</text>
<text x="0" y="0" text-anchor="end" letter-spacing="1.2" transform="translate(147.8,536.1) scale(1.0,1)">20</text>
<text x="0" y="0" text-anchor="end" letter-spacing="1.2" transform="translate(147.8,413.8) scale(1.0,1)">30</text>
<text x="0" y="0" text-anchor="end" letter-spacing="1.2" transform="translate(147.8,291.6) scale(1.0,1)">40</text>
<text x="0" y="0" text-anchor="end" letter-spacing="1.2" transform="translate(147.8,169.4) scale(1.0,1)">50</text>
<text x="0" y="0" text-anchor="end" letter-spacing="1.2" transform="translate(147.8,47.2) scale(1.0,1)">60</text>
</g>
<g font-size="37" stroke-width="0">
<text x="0" y="0" text-anchor="middle" letter-spacing="0.6" transform="translate(329.4,821) scale(1.04,0.95)">400</text>
<text x="0" y="0" text-anchor="middle" letter-spacing="0.6" transform="translate(537.5,821) scale(1.04,0.95)">600</text>
<text x="0" y="0" text-anchor="middle" letter-spacing="0.6" transform="translate(745.6,821) scale(1.04,0.95)">800</text>
<text x="0" y="0" text-anchor="middle" letter-spacing="0.6" transform="translate(953.7,821) scale(1.04,0.95)">1000</text>
<text x="0" y="0" text-anchor="middle" letter-spacing="0.6" transform="translate(1161.8,821) scale(1.04,0.95)">1200</text>
</g>
<text x="0" y="0" text-anchor="middle" font-size="51.3" transform="translate(686,879.9) scale(1.071,1)">Wavelength (nm)</text>
<text x="0" y="0" font-size="50.8" letter-spacing="0.4" transform="translate(61.3,539.2) scale(1.065,1) rotate(-90)">α (ml mg<tspan font-size="25" dy="-20">-1</tspan><tspan dy="20"> cm</tspan><tspan font-size="25" dy="-20">-1</tspan><tspan dy="20">)</tspan></text>
<g font-size="46">
<line x1="820.5" y1="126.2" x2="939.5" y2="126.2" stroke="#000" stroke-width="5.5" stroke-linecap="butt"/>
<text x="0" y="0" letter-spacing="1.1" transform="translate(951,142.5) scale(1.075,1)">Sol A</text>
<line x1="820.5" y1="184.8" x2="939.5" y2="184.8" stroke="#ff0000" stroke-width="4.5" stroke-linecap="butt"/>
<text x="0" y="0" letter-spacing="1.1" transform="translate(951,199.2) scale(1.075,1)">Sol B</text>
<line x1="820.5" y1="240.3" x2="939.5" y2="240.3" stroke="#0000ff" stroke-width="5.2" stroke-linecap="butt"/>
<text x="0" y="0" letter-spacing="1.1" transform="translate(951,255.6) scale(1.075,1)">Sol C</text>
<line x1="820.5" y1="298.7" x2="939.5" y2="298.7" stroke="#008080" stroke-width="6" stroke-linecap="butt"/>
<text x="0" y="0" letter-spacing="1.1" transform="translate(951,312.5) scale(1.075,1)">Sol D</text>
</g>
</g>
</g>
</svg>
</body></html>
